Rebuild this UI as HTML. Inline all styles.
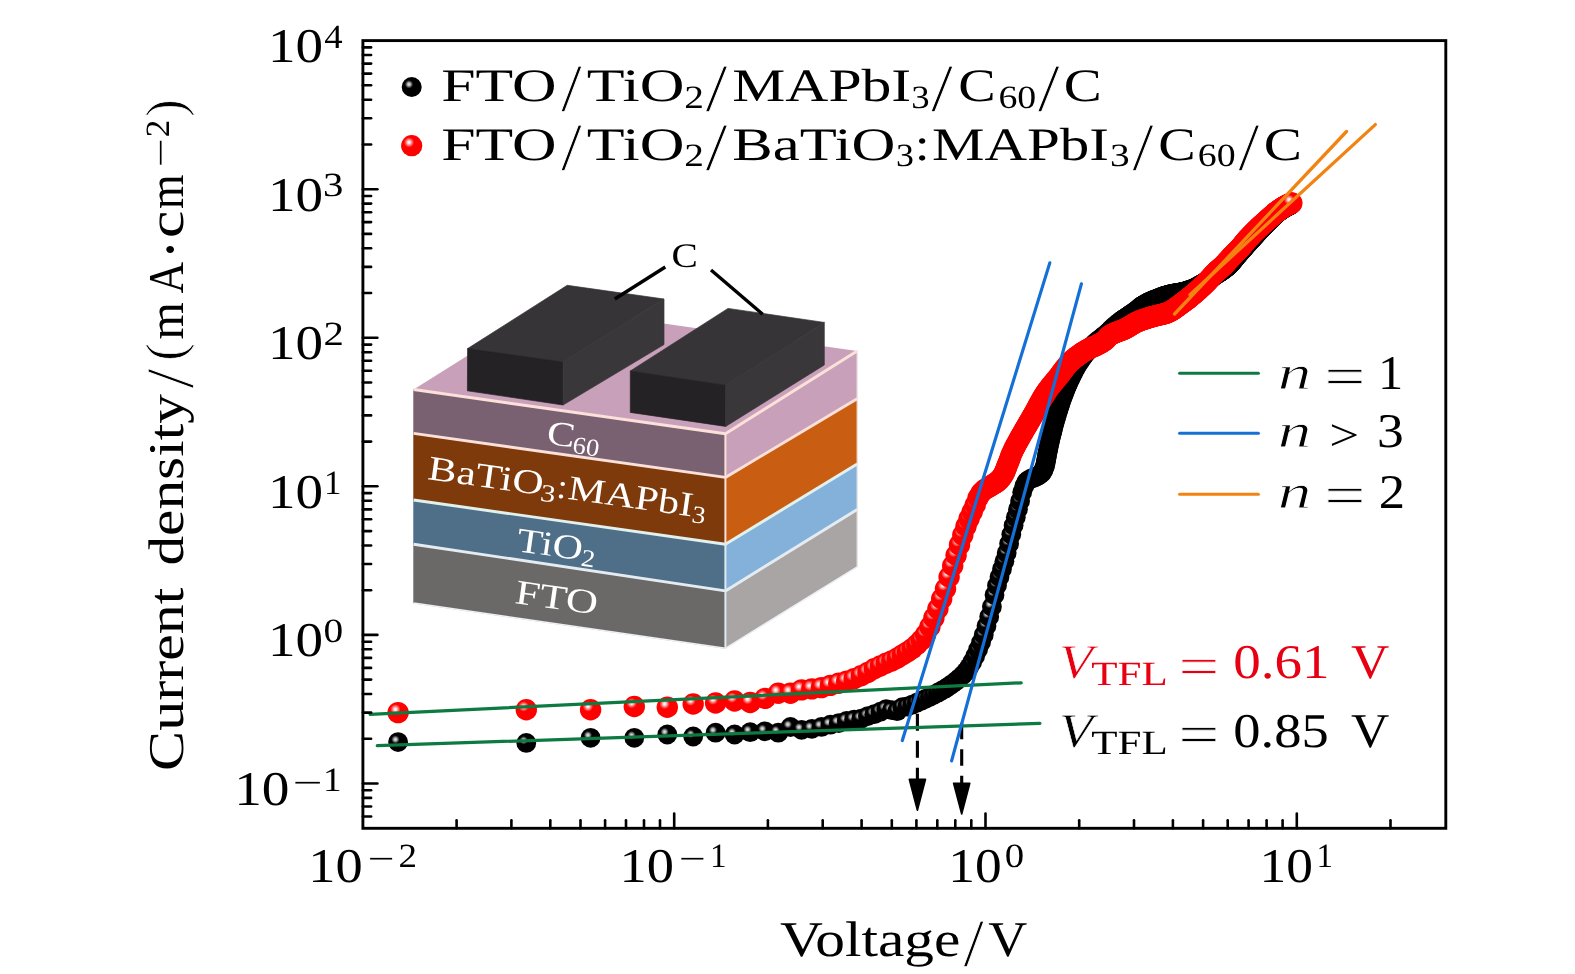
<!DOCTYPE html>
<html lang="en">
<head>
<meta charset="utf-8">
<title>J-V characteristics</title>
<style>
html,body{margin:0;padding:0;background:#fff;}
body{width:1575px;height:974px;overflow:hidden;}
svg{display:block;will-change:transform;}
text{font-family:'Liberation Serif', 'DejaVu Serif', serif;fill:#000;text-rendering:geometricPrecision;}
.it{font-style:italic;}
.w{fill:#fff;}
.r{fill:#e60012;}
</style>
</head>
<body>
<svg width="1575" height="974" viewBox="0 0 1575 974">
<defs>
<radialGradient id="gr" cx="0.375" cy="0.345" r="0.24">
<stop offset="0" stop-color="#ffffff"/>
<stop offset="0.25" stop-color="#ffe0e0"/>
<stop offset="0.6" stop-color="#ff7070"/>
<stop offset="1" stop-color="#ff0000"/>
</radialGradient>
<radialGradient id="gk" cx="0.365" cy="0.365" r="0.21">
<stop offset="0" stop-color="#ececec"/>
<stop offset="0.4" stop-color="#a8a8a8"/>
<stop offset="0.8" stop-color="#303030"/>
<stop offset="1" stop-color="#000000"/>
</radialGradient>
</defs>
<rect x="0" y="0" width="1575" height="974" fill="#ffffff"/>

<g id="series-black">
<circle cx="398.1" cy="742.1" r="9.9" fill="url(#gk)"/>
<circle cx="526.3" cy="742.9" r="9.9" fill="url(#gk)"/>
<circle cx="590.6" cy="737.8" r="9.9" fill="url(#gk)"/>
<circle cx="634.3" cy="737.8" r="9.9" fill="url(#gk)"/>
<circle cx="667.3" cy="734.5" r="9.9" fill="url(#gk)"/>
<circle cx="693.2" cy="736.5" r="9.9" fill="url(#gk)"/>
<circle cx="715.6" cy="732.7" r="9.9" fill="url(#gk)"/>
<circle cx="734.6" cy="734.5" r="9.9" fill="url(#gk)"/>
<circle cx="750.2" cy="732.2" r="9.9" fill="url(#gk)"/>
<circle cx="765.0" cy="731.3" r="9.9" fill="url(#gk)"/>
<circle cx="778.3" cy="732.7" r="9.9" fill="url(#gk)"/>
<circle cx="790.5" cy="727.0" r="9.9" fill="url(#gk)"/>
<circle cx="801.6" cy="729.8" r="9.9" fill="url(#gk)"/>
<circle cx="811.9" cy="728.8" r="9.9" fill="url(#gk)"/>
<circle cx="821.5" cy="726.9" r="9.9" fill="url(#gk)"/>
<circle cx="830.4" cy="724.7" r="9.9" fill="url(#gk)"/>
<circle cx="838.8" cy="723.1" r="9.9" fill="url(#gk)"/>
<circle cx="846.7" cy="720.8" r="9.9" fill="url(#gk)"/>
<circle cx="854.1" cy="719.6" r="9.9" fill="url(#gk)"/>
<circle cx="861.2" cy="718.7" r="9.9" fill="url(#gk)"/>
<circle cx="867.9" cy="716.1" r="9.9" fill="url(#gk)"/>
<circle cx="874.3" cy="714.2" r="9.9" fill="url(#gk)"/>
<circle cx="880.4" cy="711.7" r="9.9" fill="url(#gk)"/>
<circle cx="886.2" cy="709.1" r="9.9" fill="url(#gk)"/>
<circle cx="891.8" cy="710.2" r="9.9" fill="url(#gk)"/>
<circle cx="897.2" cy="711.2" r="9.9" fill="url(#gk)"/>
<circle cx="902.4" cy="707.2" r="9.9" fill="url(#gk)"/>
<circle cx="907.4" cy="706.5" r="9.9" fill="url(#gk)"/>
<circle cx="912.2" cy="704.7" r="9.9" fill="url(#gk)"/>
<circle cx="916.8" cy="702.7" r="9.9" fill="url(#gk)"/>
<circle cx="921.3" cy="700.7" r="9.9" fill="url(#gk)"/>
<circle cx="925.6" cy="698.8" r="9.9" fill="url(#gk)"/>
<circle cx="929.9" cy="696.8" r="9.9" fill="url(#gk)"/>
<circle cx="933.9" cy="694.8" r="9.9" fill="url(#gk)"/>
<circle cx="937.9" cy="692.7" r="9.9" fill="url(#gk)"/>
<circle cx="941.7" cy="690.6" r="9.9" fill="url(#gk)"/>
<circle cx="945.5" cy="688.4" r="9.9" fill="url(#gk)"/>
<circle cx="949.1" cy="686.1" r="9.9" fill="url(#gk)"/>
<circle cx="952.7" cy="683.6" r="9.9" fill="url(#gk)"/>
<circle cx="956.1" cy="680.9" r="9.9" fill="url(#gk)"/>
<circle cx="959.5" cy="678.1" r="9.9" fill="url(#gk)"/>
<circle cx="962.8" cy="675.1" r="9.9" fill="url(#gk)"/>
<circle cx="966.0" cy="671.6" r="9.9" fill="url(#gk)"/>
<circle cx="969.1" cy="667.2" r="9.9" fill="url(#gk)"/>
<circle cx="972.2" cy="662.0" r="9.9" fill="url(#gk)"/>
<circle cx="975.2" cy="656.0" r="9.9" fill="url(#gk)"/>
<circle cx="978.1" cy="649.4" r="9.9" fill="url(#gk)"/>
<circle cx="981.0" cy="642.4" r="9.9" fill="url(#gk)"/>
<circle cx="983.8" cy="634.7" r="9.9" fill="url(#gk)"/>
<circle cx="986.5" cy="626.0" r="9.9" fill="url(#gk)"/>
<circle cx="989.2" cy="616.8" r="9.9" fill="url(#gk)"/>
<circle cx="991.9" cy="606.7" r="9.9" fill="url(#gk)"/>
<circle cx="994.5" cy="594.9" r="9.9" fill="url(#gk)"/>
<circle cx="997.0" cy="585.5" r="9.9" fill="url(#gk)"/>
<circle cx="999.5" cy="576.9" r="9.9" fill="url(#gk)"/>
<circle cx="1002.0" cy="569.0" r="9.9" fill="url(#gk)"/>
<circle cx="1004.4" cy="561.3" r="9.9" fill="url(#gk)"/>
<circle cx="1006.7" cy="553.0" r="9.9" fill="url(#gk)"/>
<circle cx="1009.1" cy="543.8" r="9.9" fill="url(#gk)"/>
<circle cx="1011.3" cy="534.4" r="9.9" fill="url(#gk)"/>
<circle cx="1013.6" cy="525.4" r="9.9" fill="url(#gk)"/>
<circle cx="1015.8" cy="517.2" r="9.9" fill="url(#gk)"/>
<circle cx="1018.0" cy="509.3" r="9.9" fill="url(#gk)"/>
<circle cx="1020.1" cy="500.9" r="9.9" fill="url(#gk)"/>
<circle cx="1022.2" cy="492.2" r="9.9" fill="url(#gk)"/>
<circle cx="1024.3" cy="485.9" r="9.9" fill="url(#gk)"/>
<circle cx="1026.4" cy="481.8" r="9.9" fill="url(#gk)"/>
<circle cx="1028.4" cy="480.1" r="9.9" fill="url(#gk)"/>
<circle cx="1030.4" cy="479.0" r="9.9" fill="url(#gk)"/>
<circle cx="1032.3" cy="478.2" r="9.9" fill="url(#gk)"/>
<circle cx="1034.2" cy="477.5" r="9.9" fill="url(#gk)"/>
<circle cx="1036.1" cy="476.8" r="9.9" fill="url(#gk)"/>
<circle cx="1038.0" cy="475.8" r="9.9" fill="url(#gk)"/>
<circle cx="1039.9" cy="474.6" r="9.9" fill="url(#gk)"/>
<circle cx="1041.7" cy="472.9" r="9.9" fill="url(#gk)"/>
<circle cx="1042.6" cy="471.5" r="9.9" fill="url(#gk)"/>
<circle cx="1043.5" cy="470.1" r="9.9" fill="url(#gk)"/>
<circle cx="1044.4" cy="467.5" r="9.9" fill="url(#gk)"/>
<circle cx="1045.3" cy="465.0" r="9.9" fill="url(#gk)"/>
<circle cx="1045.7" cy="462.6" r="9.9" fill="url(#gk)"/>
<circle cx="1046.1" cy="460.2" r="9.9" fill="url(#gk)"/>
<circle cx="1046.6" cy="457.8" r="9.9" fill="url(#gk)"/>
<circle cx="1047.0" cy="455.4" r="9.9" fill="url(#gk)"/>
<circle cx="1047.6" cy="452.5" r="9.9" fill="url(#gk)"/>
<circle cx="1048.2" cy="449.6" r="9.9" fill="url(#gk)"/>
<circle cx="1048.7" cy="446.7" r="9.9" fill="url(#gk)"/>
<circle cx="1049.3" cy="444.1" r="9.9" fill="url(#gk)"/>
<circle cx="1049.9" cy="441.5" r="9.9" fill="url(#gk)"/>
<circle cx="1050.4" cy="438.9" r="9.9" fill="url(#gk)"/>
<circle cx="1051.0" cy="436.6" r="9.9" fill="url(#gk)"/>
<circle cx="1051.6" cy="434.3" r="9.9" fill="url(#gk)"/>
<circle cx="1052.1" cy="432.0" r="9.9" fill="url(#gk)"/>
<circle cx="1052.7" cy="429.9" r="9.9" fill="url(#gk)"/>
<circle cx="1053.2" cy="427.7" r="9.9" fill="url(#gk)"/>
<circle cx="1053.8" cy="425.6" r="9.9" fill="url(#gk)"/>
<circle cx="1054.3" cy="423.6" r="9.9" fill="url(#gk)"/>
<circle cx="1054.9" cy="421.6" r="9.9" fill="url(#gk)"/>
<circle cx="1055.4" cy="419.6" r="9.9" fill="url(#gk)"/>
<circle cx="1056.3" cy="416.9" r="9.9" fill="url(#gk)"/>
<circle cx="1057.1" cy="414.1" r="9.9" fill="url(#gk)"/>
<circle cx="1057.9" cy="411.5" r="9.9" fill="url(#gk)"/>
<circle cx="1058.7" cy="408.9" r="9.9" fill="url(#gk)"/>
<circle cx="1059.5" cy="406.4" r="9.9" fill="url(#gk)"/>
<circle cx="1060.3" cy="403.9" r="9.9" fill="url(#gk)"/>
<circle cx="1061.1" cy="401.6" r="9.9" fill="url(#gk)"/>
<circle cx="1061.8" cy="399.3" r="9.9" fill="url(#gk)"/>
<circle cx="1062.6" cy="397.2" r="9.9" fill="url(#gk)"/>
<circle cx="1063.4" cy="395.0" r="9.9" fill="url(#gk)"/>
<circle cx="1064.2" cy="393.0" r="9.9" fill="url(#gk)"/>
<circle cx="1064.9" cy="391.0" r="9.9" fill="url(#gk)"/>
<circle cx="1065.7" cy="389.2" r="9.9" fill="url(#gk)"/>
<circle cx="1066.4" cy="387.3" r="9.9" fill="url(#gk)"/>
<circle cx="1067.2" cy="385.5" r="9.9" fill="url(#gk)"/>
<circle cx="1067.9" cy="383.7" r="9.9" fill="url(#gk)"/>
<circle cx="1068.7" cy="382.0" r="9.9" fill="url(#gk)"/>
<circle cx="1069.4" cy="380.4" r="9.9" fill="url(#gk)"/>
<circle cx="1070.2" cy="378.8" r="9.9" fill="url(#gk)"/>
<circle cx="1070.9" cy="377.2" r="9.9" fill="url(#gk)"/>
<circle cx="1071.6" cy="375.8" r="9.9" fill="url(#gk)"/>
<circle cx="1072.3" cy="374.3" r="9.9" fill="url(#gk)"/>
<circle cx="1073.1" cy="372.9" r="9.9" fill="url(#gk)"/>
<circle cx="1073.8" cy="371.6" r="9.9" fill="url(#gk)"/>
<circle cx="1075.2" cy="369.0" r="9.9" fill="url(#gk)"/>
<circle cx="1076.6" cy="366.5" r="9.9" fill="url(#gk)"/>
<circle cx="1078.0" cy="364.2" r="9.9" fill="url(#gk)"/>
<circle cx="1079.4" cy="362.0" r="9.9" fill="url(#gk)"/>
<circle cx="1080.7" cy="360.0" r="9.9" fill="url(#gk)"/>
<circle cx="1082.1" cy="358.0" r="9.9" fill="url(#gk)"/>
<circle cx="1083.4" cy="356.2" r="9.9" fill="url(#gk)"/>
<circle cx="1084.7" cy="354.4" r="9.9" fill="url(#gk)"/>
<circle cx="1086.1" cy="352.8" r="9.9" fill="url(#gk)"/>
<circle cx="1087.4" cy="351.2" r="9.9" fill="url(#gk)"/>
<circle cx="1088.6" cy="349.7" r="9.9" fill="url(#gk)"/>
<circle cx="1089.9" cy="348.2" r="9.9" fill="url(#gk)"/>
<circle cx="1091.2" cy="346.9" r="9.9" fill="url(#gk)"/>
<circle cx="1092.4" cy="345.6" r="9.9" fill="url(#gk)"/>
<circle cx="1093.7" cy="344.4" r="9.9" fill="url(#gk)"/>
<circle cx="1094.9" cy="343.2" r="9.9" fill="url(#gk)"/>
<circle cx="1096.1" cy="342.2" r="9.9" fill="url(#gk)"/>
<circle cx="1097.3" cy="341.2" r="9.9" fill="url(#gk)"/>
<circle cx="1098.5" cy="340.2" r="9.9" fill="url(#gk)"/>
<circle cx="1099.7" cy="339.3" r="9.9" fill="url(#gk)"/>
<circle cx="1100.9" cy="338.4" r="9.9" fill="url(#gk)"/>
<circle cx="1102.0" cy="337.5" r="9.9" fill="url(#gk)"/>
<circle cx="1103.2" cy="336.5" r="9.9" fill="url(#gk)"/>
<circle cx="1104.3" cy="335.6" r="9.9" fill="url(#gk)"/>
<circle cx="1105.5" cy="334.7" r="9.9" fill="url(#gk)"/>
<circle cx="1106.6" cy="333.7" r="9.9" fill="url(#gk)"/>
<circle cx="1107.7" cy="332.7" r="9.9" fill="url(#gk)"/>
<circle cx="1108.8" cy="331.7" r="9.9" fill="url(#gk)"/>
<circle cx="1109.9" cy="330.7" r="9.9" fill="url(#gk)"/>
<circle cx="1111.0" cy="329.6" r="9.9" fill="url(#gk)"/>
<circle cx="1112.1" cy="328.6" r="9.9" fill="url(#gk)"/>
<circle cx="1113.2" cy="327.6" r="9.9" fill="url(#gk)"/>
<circle cx="1114.2" cy="326.6" r="9.9" fill="url(#gk)"/>
<circle cx="1115.3" cy="325.6" r="9.9" fill="url(#gk)"/>
<circle cx="1116.3" cy="324.7" r="9.9" fill="url(#gk)"/>
<circle cx="1117.4" cy="323.8" r="9.9" fill="url(#gk)"/>
<circle cx="1118.4" cy="323.0" r="9.9" fill="url(#gk)"/>
<circle cx="1119.4" cy="322.2" r="9.9" fill="url(#gk)"/>
<circle cx="1120.4" cy="321.5" r="9.9" fill="url(#gk)"/>
<circle cx="1121.4" cy="320.7" r="9.9" fill="url(#gk)"/>
<circle cx="1122.4" cy="320.0" r="9.9" fill="url(#gk)"/>
<circle cx="1123.4" cy="319.3" r="9.9" fill="url(#gk)"/>
<circle cx="1124.4" cy="318.6" r="9.9" fill="url(#gk)"/>
<circle cx="1125.4" cy="318.0" r="9.9" fill="url(#gk)"/>
<circle cx="1126.4" cy="317.3" r="9.9" fill="url(#gk)"/>
<circle cx="1127.3" cy="316.7" r="9.9" fill="url(#gk)"/>
<circle cx="1128.3" cy="316.0" r="9.9" fill="url(#gk)"/>
<circle cx="1129.2" cy="315.4" r="9.9" fill="url(#gk)"/>
<circle cx="1130.2" cy="314.7" r="9.9" fill="url(#gk)"/>
<circle cx="1131.1" cy="314.1" r="9.9" fill="url(#gk)"/>
<circle cx="1132.1" cy="313.5" r="9.9" fill="url(#gk)"/>
<circle cx="1133.0" cy="312.8" r="9.9" fill="url(#gk)"/>
<circle cx="1133.9" cy="312.2" r="9.9" fill="url(#gk)"/>
<circle cx="1134.8" cy="311.5" r="9.9" fill="url(#gk)"/>
<circle cx="1135.7" cy="310.9" r="9.9" fill="url(#gk)"/>
<circle cx="1136.6" cy="310.2" r="9.9" fill="url(#gk)"/>
<circle cx="1137.5" cy="309.4" r="9.9" fill="url(#gk)"/>
<circle cx="1138.4" cy="308.7" r="9.9" fill="url(#gk)"/>
<circle cx="1139.3" cy="307.9" r="9.9" fill="url(#gk)"/>
<circle cx="1140.2" cy="307.2" r="9.9" fill="url(#gk)"/>
<circle cx="1141.0" cy="306.5" r="9.9" fill="url(#gk)"/>
<circle cx="1141.9" cy="305.9" r="9.9" fill="url(#gk)"/>
<circle cx="1142.8" cy="305.3" r="9.9" fill="url(#gk)"/>
<circle cx="1143.6" cy="304.8" r="9.9" fill="url(#gk)"/>
<circle cx="1144.5" cy="304.3" r="9.9" fill="url(#gk)"/>
<circle cx="1145.3" cy="303.8" r="9.9" fill="url(#gk)"/>
<circle cx="1146.1" cy="303.4" r="9.9" fill="url(#gk)"/>
<circle cx="1147.0" cy="302.9" r="9.9" fill="url(#gk)"/>
<circle cx="1147.8" cy="302.5" r="9.9" fill="url(#gk)"/>
<circle cx="1148.6" cy="302.1" r="9.9" fill="url(#gk)"/>
<circle cx="1149.4" cy="301.7" r="9.9" fill="url(#gk)"/>
<circle cx="1150.3" cy="301.4" r="9.9" fill="url(#gk)"/>
<circle cx="1151.1" cy="301.0" r="9.9" fill="url(#gk)"/>
<circle cx="1151.9" cy="300.7" r="9.9" fill="url(#gk)"/>
<circle cx="1152.7" cy="300.3" r="9.9" fill="url(#gk)"/>
<circle cx="1153.5" cy="300.0" r="9.9" fill="url(#gk)"/>
<circle cx="1154.3" cy="299.7" r="9.9" fill="url(#gk)"/>
<circle cx="1155.0" cy="299.4" r="9.9" fill="url(#gk)"/>
<circle cx="1155.8" cy="299.1" r="9.9" fill="url(#gk)"/>
<circle cx="1156.6" cy="298.8" r="9.9" fill="url(#gk)"/>
<circle cx="1157.4" cy="298.5" r="9.9" fill="url(#gk)"/>
<circle cx="1158.1" cy="298.2" r="9.9" fill="url(#gk)"/>
<circle cx="1158.9" cy="297.9" r="9.9" fill="url(#gk)"/>
<circle cx="1159.7" cy="297.6" r="9.9" fill="url(#gk)"/>
<circle cx="1160.4" cy="297.3" r="9.9" fill="url(#gk)"/>
<circle cx="1161.2" cy="297.0" r="9.9" fill="url(#gk)"/>
<circle cx="1161.9" cy="296.7" r="9.9" fill="url(#gk)"/>
<circle cx="1162.7" cy="296.5" r="9.9" fill="url(#gk)"/>
<circle cx="1163.4" cy="296.2" r="9.9" fill="url(#gk)"/>
<circle cx="1164.1" cy="296.0" r="9.9" fill="url(#gk)"/>
<circle cx="1164.9" cy="295.7" r="9.9" fill="url(#gk)"/>
<circle cx="1165.6" cy="295.5" r="9.9" fill="url(#gk)"/>
<circle cx="1166.3" cy="295.3" r="9.9" fill="url(#gk)"/>
<circle cx="1167.0" cy="295.1" r="9.9" fill="url(#gk)"/>
<circle cx="1167.7" cy="294.9" r="9.9" fill="url(#gk)"/>
<circle cx="1168.5" cy="294.7" r="9.9" fill="url(#gk)"/>
<circle cx="1169.2" cy="294.5" r="9.9" fill="url(#gk)"/>
<circle cx="1169.9" cy="294.3" r="9.9" fill="url(#gk)"/>
<circle cx="1170.6" cy="294.1" r="9.9" fill="url(#gk)"/>
<circle cx="1171.3" cy="294.0" r="9.9" fill="url(#gk)"/>
<circle cx="1172.0" cy="293.9" r="9.9" fill="url(#gk)"/>
<circle cx="1172.6" cy="293.7" r="9.9" fill="url(#gk)"/>
<circle cx="1173.3" cy="293.6" r="9.9" fill="url(#gk)"/>
<circle cx="1174.0" cy="293.5" r="9.9" fill="url(#gk)"/>
<circle cx="1174.7" cy="293.4" r="9.9" fill="url(#gk)"/>
<circle cx="1175.4" cy="293.3" r="9.9" fill="url(#gk)"/>
<circle cx="1176.0" cy="293.2" r="9.9" fill="url(#gk)"/>
<circle cx="1176.7" cy="293.0" r="9.9" fill="url(#gk)"/>
<circle cx="1177.4" cy="292.9" r="9.9" fill="url(#gk)"/>
<circle cx="1178.0" cy="292.8" r="9.9" fill="url(#gk)"/>
<circle cx="1178.7" cy="292.7" r="9.9" fill="url(#gk)"/>
<circle cx="1179.4" cy="292.6" r="9.9" fill="url(#gk)"/>
<circle cx="1180.0" cy="292.5" r="9.9" fill="url(#gk)"/>
<circle cx="1180.7" cy="292.4" r="9.9" fill="url(#gk)"/>
<circle cx="1181.3" cy="292.2" r="9.9" fill="url(#gk)"/>
<circle cx="1181.9" cy="292.1" r="9.9" fill="url(#gk)"/>
<circle cx="1182.6" cy="291.9" r="9.9" fill="url(#gk)"/>
<circle cx="1183.2" cy="291.8" r="9.9" fill="url(#gk)"/>
<circle cx="1183.9" cy="291.6" r="9.9" fill="url(#gk)"/>
<circle cx="1184.5" cy="291.5" r="9.9" fill="url(#gk)"/>
<circle cx="1185.1" cy="291.3" r="9.9" fill="url(#gk)"/>
<circle cx="1185.7" cy="291.1" r="9.9" fill="url(#gk)"/>
<circle cx="1186.4" cy="290.9" r="9.9" fill="url(#gk)"/>
<circle cx="1187.0" cy="290.7" r="9.9" fill="url(#gk)"/>
<circle cx="1187.6" cy="290.5" r="9.9" fill="url(#gk)"/>
<circle cx="1188.2" cy="290.3" r="9.9" fill="url(#gk)"/>
<circle cx="1188.8" cy="290.1" r="9.9" fill="url(#gk)"/>
<circle cx="1189.4" cy="289.9" r="9.9" fill="url(#gk)"/>
<circle cx="1190.0" cy="289.7" r="9.9" fill="url(#gk)"/>
<circle cx="1190.6" cy="289.5" r="9.9" fill="url(#gk)"/>
<circle cx="1191.2" cy="289.3" r="9.9" fill="url(#gk)"/>
<circle cx="1191.8" cy="289.1" r="9.9" fill="url(#gk)"/>
<circle cx="1192.4" cy="288.8" r="9.9" fill="url(#gk)"/>
<circle cx="1193.0" cy="288.6" r="9.9" fill="url(#gk)"/>
<circle cx="1193.6" cy="288.3" r="9.9" fill="url(#gk)"/>
<circle cx="1194.2" cy="288.1" r="9.9" fill="url(#gk)"/>
<circle cx="1194.8" cy="287.8" r="9.9" fill="url(#gk)"/>
<circle cx="1195.4" cy="287.5" r="9.9" fill="url(#gk)"/>
<circle cx="1196.0" cy="287.2" r="9.9" fill="url(#gk)"/>
<circle cx="1196.5" cy="286.9" r="9.9" fill="url(#gk)"/>
<circle cx="1197.1" cy="286.6" r="9.9" fill="url(#gk)"/>
<circle cx="1197.7" cy="286.3" r="9.9" fill="url(#gk)"/>
<circle cx="1198.2" cy="286.0" r="9.9" fill="url(#gk)"/>
<circle cx="1198.8" cy="285.7" r="9.9" fill="url(#gk)"/>
<circle cx="1199.4" cy="285.3" r="9.9" fill="url(#gk)"/>
<circle cx="1199.9" cy="285.0" r="9.9" fill="url(#gk)"/>
<circle cx="1200.5" cy="284.7" r="9.9" fill="url(#gk)"/>
<circle cx="1201.1" cy="284.4" r="9.9" fill="url(#gk)"/>
<circle cx="1201.6" cy="284.1" r="9.9" fill="url(#gk)"/>
<circle cx="1202.2" cy="283.8" r="9.9" fill="url(#gk)"/>
<circle cx="1202.7" cy="283.4" r="9.9" fill="url(#gk)"/>
<circle cx="1203.3" cy="283.1" r="9.9" fill="url(#gk)"/>
<circle cx="1203.8" cy="282.8" r="9.9" fill="url(#gk)"/>
<circle cx="1204.4" cy="282.5" r="9.9" fill="url(#gk)"/>
<circle cx="1204.9" cy="282.1" r="9.9" fill="url(#gk)"/>
<circle cx="1205.4" cy="281.8" r="9.9" fill="url(#gk)"/>
<circle cx="1206.0" cy="281.4" r="9.9" fill="url(#gk)"/>
<circle cx="1206.5" cy="281.1" r="9.9" fill="url(#gk)"/>
<circle cx="1207.1" cy="280.8" r="9.9" fill="url(#gk)"/>
<circle cx="1207.6" cy="280.4" r="9.9" fill="url(#gk)"/>
<circle cx="1208.1" cy="280.1" r="9.9" fill="url(#gk)"/>
<circle cx="1208.6" cy="279.7" r="9.9" fill="url(#gk)"/>
<circle cx="1209.2" cy="279.4" r="9.9" fill="url(#gk)"/>
<circle cx="1209.7" cy="279.1" r="9.9" fill="url(#gk)"/>
<circle cx="1210.2" cy="278.7" r="9.9" fill="url(#gk)"/>
<circle cx="1210.7" cy="278.4" r="9.9" fill="url(#gk)"/>
<circle cx="1211.3" cy="278.0" r="9.9" fill="url(#gk)"/>
<circle cx="1211.8" cy="277.7" r="9.9" fill="url(#gk)"/>
<circle cx="1212.3" cy="277.3" r="9.9" fill="url(#gk)"/>
<circle cx="1212.8" cy="277.0" r="9.9" fill="url(#gk)"/>
<circle cx="1213.3" cy="276.6" r="9.9" fill="url(#gk)"/>
<circle cx="1213.8" cy="276.3" r="9.9" fill="url(#gk)"/>
<circle cx="1214.3" cy="276.0" r="9.9" fill="url(#gk)"/>
<circle cx="1214.8" cy="275.6" r="9.9" fill="url(#gk)"/>
<circle cx="1215.3" cy="275.3" r="9.9" fill="url(#gk)"/>
<circle cx="1215.8" cy="274.9" r="9.9" fill="url(#gk)"/>
<circle cx="1216.3" cy="274.6" r="9.9" fill="url(#gk)"/>
<circle cx="1216.8" cy="274.3" r="9.9" fill="url(#gk)"/>
<circle cx="1217.3" cy="274.0" r="9.9" fill="url(#gk)"/>
<circle cx="1217.8" cy="273.6" r="9.9" fill="url(#gk)"/>
<circle cx="1218.3" cy="273.3" r="9.9" fill="url(#gk)"/>
<circle cx="1218.8" cy="273.0" r="9.9" fill="url(#gk)"/>
<circle cx="1219.3" cy="272.7" r="9.9" fill="url(#gk)"/>
<circle cx="1219.8" cy="272.3" r="9.9" fill="url(#gk)"/>
<circle cx="1220.3" cy="272.0" r="9.9" fill="url(#gk)"/>
<circle cx="1220.7" cy="271.7" r="9.9" fill="url(#gk)"/>
<circle cx="1221.2" cy="271.4" r="9.9" fill="url(#gk)"/>
<circle cx="1221.7" cy="271.0" r="9.9" fill="url(#gk)"/>
<circle cx="1222.2" cy="270.7" r="9.9" fill="url(#gk)"/>
<circle cx="1222.6" cy="270.4" r="9.9" fill="url(#gk)"/>
<circle cx="1223.1" cy="270.0" r="9.9" fill="url(#gk)"/>
<circle cx="1223.6" cy="269.7" r="9.9" fill="url(#gk)"/>
<circle cx="1224.1" cy="269.3" r="9.9" fill="url(#gk)"/>
<circle cx="1224.5" cy="269.0" r="9.9" fill="url(#gk)"/>
<circle cx="1225.0" cy="268.6" r="9.9" fill="url(#gk)"/>
<circle cx="1225.5" cy="268.3" r="9.9" fill="url(#gk)"/>
<circle cx="1225.9" cy="267.9" r="9.9" fill="url(#gk)"/>
<circle cx="1226.4" cy="267.5" r="9.9" fill="url(#gk)"/>
<circle cx="1226.9" cy="267.2" r="9.9" fill="url(#gk)"/>
<circle cx="1227.3" cy="266.8" r="9.9" fill="url(#gk)"/>
<circle cx="1227.8" cy="266.4" r="9.9" fill="url(#gk)"/>
<circle cx="1228.2" cy="266.0" r="9.9" fill="url(#gk)"/>
<circle cx="1228.7" cy="265.6" r="9.9" fill="url(#gk)"/>
<circle cx="1229.1" cy="265.2" r="9.9" fill="url(#gk)"/>
<circle cx="1229.6" cy="264.7" r="9.9" fill="url(#gk)"/>
<circle cx="1230.0" cy="264.3" r="9.9" fill="url(#gk)"/>
<circle cx="1230.5" cy="263.8" r="9.9" fill="url(#gk)"/>
<circle cx="1230.9" cy="263.3" r="9.9" fill="url(#gk)"/>
<circle cx="1231.4" cy="262.8" r="9.9" fill="url(#gk)"/>
<circle cx="1231.8" cy="262.3" r="9.9" fill="url(#gk)"/>
<circle cx="1232.3" cy="261.8" r="9.9" fill="url(#gk)"/>
<circle cx="1232.7" cy="261.2" r="9.9" fill="url(#gk)"/>
<circle cx="1233.2" cy="260.7" r="9.9" fill="url(#gk)"/>
<circle cx="1233.6" cy="260.1" r="9.9" fill="url(#gk)"/>
<circle cx="1234.0" cy="259.6" r="9.9" fill="url(#gk)"/>
<circle cx="1234.5" cy="259.0" r="9.9" fill="url(#gk)"/>
<circle cx="1234.9" cy="258.5" r="9.9" fill="url(#gk)"/>
<circle cx="1235.3" cy="257.9" r="9.9" fill="url(#gk)"/>
<circle cx="1235.8" cy="257.4" r="9.9" fill="url(#gk)"/>
<circle cx="1236.2" cy="256.9" r="9.9" fill="url(#gk)"/>
<circle cx="1236.6" cy="256.4" r="9.9" fill="url(#gk)"/>
<circle cx="1237.0" cy="255.8" r="9.9" fill="url(#gk)"/>
<circle cx="1237.5" cy="255.3" r="9.9" fill="url(#gk)"/>
<circle cx="1237.9" cy="254.9" r="9.9" fill="url(#gk)"/>
<circle cx="1238.3" cy="254.4" r="9.9" fill="url(#gk)"/>
<circle cx="1238.7" cy="253.9" r="9.9" fill="url(#gk)"/>
<circle cx="1239.2" cy="253.4" r="9.9" fill="url(#gk)"/>
<circle cx="1239.6" cy="252.9" r="9.9" fill="url(#gk)"/>
<circle cx="1240.0" cy="252.4" r="9.9" fill="url(#gk)"/>
<circle cx="1240.4" cy="252.0" r="9.9" fill="url(#gk)"/>
<circle cx="1240.8" cy="251.5" r="9.9" fill="url(#gk)"/>
<circle cx="1241.3" cy="251.0" r="9.9" fill="url(#gk)"/>
<circle cx="1241.7" cy="250.5" r="9.9" fill="url(#gk)"/>
<circle cx="1242.1" cy="250.1" r="9.9" fill="url(#gk)"/>
<circle cx="1242.5" cy="249.6" r="9.9" fill="url(#gk)"/>
<circle cx="1242.9" cy="249.1" r="9.9" fill="url(#gk)"/>
<circle cx="1243.3" cy="248.7" r="9.9" fill="url(#gk)"/>
<circle cx="1243.7" cy="248.2" r="9.9" fill="url(#gk)"/>
<circle cx="1244.1" cy="247.8" r="9.9" fill="url(#gk)"/>
<circle cx="1244.5" cy="247.3" r="9.9" fill="url(#gk)"/>
<circle cx="1244.9" cy="246.9" r="9.9" fill="url(#gk)"/>
<circle cx="1245.3" cy="246.4" r="9.9" fill="url(#gk)"/>
<circle cx="1245.7" cy="246.0" r="9.9" fill="url(#gk)"/>
<circle cx="1246.1" cy="245.5" r="9.9" fill="url(#gk)"/>
<circle cx="1246.5" cy="245.1" r="9.9" fill="url(#gk)"/>
<circle cx="1246.9" cy="244.6" r="9.9" fill="url(#gk)"/>
<circle cx="1247.3" cy="244.2" r="9.9" fill="url(#gk)"/>
<circle cx="1247.7" cy="243.7" r="9.9" fill="url(#gk)"/>
<circle cx="1248.1" cy="243.3" r="9.9" fill="url(#gk)"/>
<circle cx="1248.5" cy="242.9" r="9.9" fill="url(#gk)"/>
<circle cx="1248.9" cy="242.4" r="9.9" fill="url(#gk)"/>
<circle cx="1249.3" cy="242.0" r="9.9" fill="url(#gk)"/>
<circle cx="1249.7" cy="241.6" r="9.9" fill="url(#gk)"/>
<circle cx="1250.1" cy="241.1" r="9.9" fill="url(#gk)"/>
<circle cx="1250.5" cy="240.7" r="9.9" fill="url(#gk)"/>
<circle cx="1250.8" cy="240.3" r="9.9" fill="url(#gk)"/>
<circle cx="1251.2" cy="239.9" r="9.9" fill="url(#gk)"/>
<circle cx="1251.6" cy="239.4" r="9.9" fill="url(#gk)"/>
<circle cx="1252.0" cy="239.0" r="9.9" fill="url(#gk)"/>
<circle cx="1252.4" cy="238.6" r="9.9" fill="url(#gk)"/>
<circle cx="1252.8" cy="238.2" r="9.9" fill="url(#gk)"/>
<circle cx="1253.1" cy="237.8" r="9.9" fill="url(#gk)"/>
<circle cx="1253.5" cy="237.3" r="9.9" fill="url(#gk)"/>
<circle cx="1253.9" cy="236.9" r="9.9" fill="url(#gk)"/>
<circle cx="1254.3" cy="236.5" r="9.9" fill="url(#gk)"/>
<circle cx="1254.6" cy="236.1" r="9.9" fill="url(#gk)"/>
<circle cx="1255.0" cy="235.7" r="9.9" fill="url(#gk)"/>
<circle cx="1255.4" cy="235.3" r="9.9" fill="url(#gk)"/>
<circle cx="1255.8" cy="234.9" r="9.9" fill="url(#gk)"/>
<circle cx="1256.1" cy="234.4" r="9.9" fill="url(#gk)"/>
<circle cx="1256.5" cy="234.0" r="9.9" fill="url(#gk)"/>
<circle cx="1256.9" cy="233.6" r="9.9" fill="url(#gk)"/>
<circle cx="1257.2" cy="233.2" r="9.9" fill="url(#gk)"/>
<circle cx="1257.6" cy="232.8" r="9.9" fill="url(#gk)"/>
<circle cx="1258.0" cy="232.4" r="9.9" fill="url(#gk)"/>
<circle cx="1258.3" cy="232.0" r="9.9" fill="url(#gk)"/>
<circle cx="1258.7" cy="231.6" r="9.9" fill="url(#gk)"/>
<circle cx="1259.1" cy="231.2" r="9.9" fill="url(#gk)"/>
<circle cx="1259.4" cy="230.8" r="9.9" fill="url(#gk)"/>
<circle cx="1259.8" cy="230.4" r="9.9" fill="url(#gk)"/>
<circle cx="1260.2" cy="230.0" r="9.9" fill="url(#gk)"/>
<circle cx="1260.5" cy="229.7" r="9.9" fill="url(#gk)"/>
<circle cx="1260.9" cy="229.3" r="9.9" fill="url(#gk)"/>
<circle cx="1261.2" cy="228.9" r="9.9" fill="url(#gk)"/>
<circle cx="1261.6" cy="228.5" r="9.9" fill="url(#gk)"/>
<circle cx="1261.9" cy="228.1" r="9.9" fill="url(#gk)"/>
<circle cx="1262.3" cy="227.7" r="9.9" fill="url(#gk)"/>
<circle cx="1262.6" cy="227.4" r="9.9" fill="url(#gk)"/>
<circle cx="1263.0" cy="227.0" r="9.9" fill="url(#gk)"/>
<circle cx="1263.4" cy="226.6" r="9.9" fill="url(#gk)"/>
<circle cx="1263.7" cy="226.3" r="9.9" fill="url(#gk)"/>
<circle cx="1264.1" cy="225.9" r="9.9" fill="url(#gk)"/>
<circle cx="1264.4" cy="225.5" r="9.9" fill="url(#gk)"/>
<circle cx="1264.7" cy="225.2" r="9.9" fill="url(#gk)"/>
<circle cx="1265.1" cy="224.8" r="9.9" fill="url(#gk)"/>
<circle cx="1265.4" cy="224.5" r="9.9" fill="url(#gk)"/>
<circle cx="1265.8" cy="224.1" r="9.9" fill="url(#gk)"/>
<circle cx="1266.1" cy="223.8" r="9.9" fill="url(#gk)"/>
<circle cx="1266.5" cy="223.4" r="9.9" fill="url(#gk)"/>
<circle cx="1266.8" cy="223.1" r="9.9" fill="url(#gk)"/>
<circle cx="1267.2" cy="222.7" r="9.9" fill="url(#gk)"/>
<circle cx="1267.5" cy="222.4" r="9.9" fill="url(#gk)"/>
<circle cx="1267.8" cy="222.1" r="9.9" fill="url(#gk)"/>
<circle cx="1268.2" cy="221.7" r="9.9" fill="url(#gk)"/>
<circle cx="1268.5" cy="221.4" r="9.9" fill="url(#gk)"/>
<circle cx="1268.9" cy="221.1" r="9.9" fill="url(#gk)"/>
<circle cx="1269.2" cy="220.7" r="9.9" fill="url(#gk)"/>
<circle cx="1269.5" cy="220.4" r="9.9" fill="url(#gk)"/>
<circle cx="1269.9" cy="220.1" r="9.9" fill="url(#gk)"/>
<circle cx="1270.2" cy="219.7" r="9.9" fill="url(#gk)"/>
<circle cx="1270.5" cy="219.4" r="9.9" fill="url(#gk)"/>
<circle cx="1270.9" cy="219.1" r="9.9" fill="url(#gk)"/>
<circle cx="1271.2" cy="218.7" r="9.9" fill="url(#gk)"/>
<circle cx="1271.5" cy="218.4" r="9.9" fill="url(#gk)"/>
<circle cx="1271.9" cy="218.1" r="9.9" fill="url(#gk)"/>
<circle cx="1272.2" cy="217.8" r="9.9" fill="url(#gk)"/>
<circle cx="1272.5" cy="217.4" r="9.9" fill="url(#gk)"/>
<circle cx="1272.9" cy="217.1" r="9.9" fill="url(#gk)"/>
<circle cx="1273.2" cy="216.8" r="9.9" fill="url(#gk)"/>
<circle cx="1273.5" cy="216.5" r="9.9" fill="url(#gk)"/>
<circle cx="1273.8" cy="216.2" r="9.9" fill="url(#gk)"/>
<circle cx="1274.2" cy="215.9" r="9.9" fill="url(#gk)"/>
<circle cx="1274.5" cy="215.6" r="9.9" fill="url(#gk)"/>
<circle cx="1274.8" cy="215.3" r="9.9" fill="url(#gk)"/>
<circle cx="1275.1" cy="215.0" r="9.9" fill="url(#gk)"/>
<circle cx="1275.4" cy="214.7" r="9.9" fill="url(#gk)"/>
<circle cx="1275.8" cy="214.4" r="9.9" fill="url(#gk)"/>
<circle cx="1276.1" cy="214.1" r="9.9" fill="url(#gk)"/>
<circle cx="1276.4" cy="213.8" r="9.9" fill="url(#gk)"/>
<circle cx="1276.7" cy="213.6" r="9.9" fill="url(#gk)"/>
<circle cx="1277.0" cy="213.3" r="9.9" fill="url(#gk)"/>
<circle cx="1277.4" cy="213.0" r="9.9" fill="url(#gk)"/>
<circle cx="1277.7" cy="212.8" r="9.9" fill="url(#gk)"/>
<circle cx="1278.0" cy="212.5" r="9.9" fill="url(#gk)"/>
<circle cx="1278.3" cy="212.3" r="9.9" fill="url(#gk)"/>
<circle cx="1278.6" cy="212.0" r="9.9" fill="url(#gk)"/>
<circle cx="1278.9" cy="211.8" r="9.9" fill="url(#gk)"/>
<circle cx="1279.2" cy="211.5" r="9.9" fill="url(#gk)"/>
<circle cx="1279.6" cy="211.3" r="9.9" fill="url(#gk)"/>
<circle cx="1279.9" cy="211.1" r="9.9" fill="url(#gk)"/>
<circle cx="1280.2" cy="210.9" r="9.9" fill="url(#gk)"/>
<circle cx="1280.5" cy="210.7" r="9.9" fill="url(#gk)"/>
<circle cx="1280.8" cy="210.4" r="9.9" fill="url(#gk)"/>
<circle cx="1281.1" cy="210.2" r="9.9" fill="url(#gk)"/>
<circle cx="1281.4" cy="210.0" r="9.9" fill="url(#gk)"/>
<circle cx="1281.7" cy="209.8" r="9.9" fill="url(#gk)"/>
<circle cx="1282.0" cy="209.6" r="9.9" fill="url(#gk)"/>
<circle cx="1282.3" cy="209.4" r="9.9" fill="url(#gk)"/>
<circle cx="1282.6" cy="209.2" r="9.9" fill="url(#gk)"/>
<circle cx="1282.9" cy="209.0" r="9.9" fill="url(#gk)"/>
<circle cx="1283.3" cy="208.8" r="9.9" fill="url(#gk)"/>
<circle cx="1283.6" cy="208.6" r="9.9" fill="url(#gk)"/>
<circle cx="1283.9" cy="208.5" r="9.9" fill="url(#gk)"/>
<circle cx="1284.2" cy="208.3" r="9.9" fill="url(#gk)"/>
<circle cx="1284.5" cy="208.1" r="9.9" fill="url(#gk)"/>
<circle cx="1284.8" cy="207.9" r="9.9" fill="url(#gk)"/>
<circle cx="1285.1" cy="207.7" r="9.9" fill="url(#gk)"/>
<circle cx="1285.4" cy="207.6" r="9.9" fill="url(#gk)"/>
<circle cx="1285.7" cy="207.4" r="9.9" fill="url(#gk)"/>
<circle cx="1286.0" cy="207.2" r="9.9" fill="url(#gk)"/>
<circle cx="1286.3" cy="207.1" r="9.9" fill="url(#gk)"/>
<circle cx="1286.5" cy="206.9" r="9.9" fill="url(#gk)"/>
<circle cx="1286.8" cy="206.7" r="9.9" fill="url(#gk)"/>
<circle cx="1287.1" cy="206.6" r="9.9" fill="url(#gk)"/>
<circle cx="1287.4" cy="206.4" r="9.9" fill="url(#gk)"/>
<circle cx="1287.7" cy="206.3" r="9.9" fill="url(#gk)"/>
<circle cx="1288.0" cy="206.1" r="9.9" fill="url(#gk)"/>
<circle cx="1288.3" cy="206.0" r="9.9" fill="url(#gk)"/>
<circle cx="1288.6" cy="205.8" r="9.9" fill="url(#gk)"/>
<circle cx="1288.9" cy="205.7" r="9.9" fill="url(#gk)"/>
<circle cx="1289.2" cy="205.6" r="9.9" fill="url(#gk)"/>
<circle cx="1289.5" cy="205.4" r="9.9" fill="url(#gk)"/>
<circle cx="1289.8" cy="205.3" r="9.9" fill="url(#gk)"/>
<circle cx="1290.1" cy="205.2" r="9.9" fill="url(#gk)"/>
<circle cx="1290.3" cy="205.1" r="9.9" fill="url(#gk)"/>
<circle cx="1290.6" cy="204.9" r="9.9" fill="url(#gk)"/>
</g>
<g id="series-red">
<circle cx="398.1" cy="712.6" r="10.7" fill="url(#gr)"/>
<circle cx="526.3" cy="709.8" r="10.7" fill="url(#gr)"/>
<circle cx="590.6" cy="709.8" r="10.7" fill="url(#gr)"/>
<circle cx="634.3" cy="706.5" r="10.7" fill="url(#gr)"/>
<circle cx="667.3" cy="707.3" r="10.7" fill="url(#gr)"/>
<circle cx="693.2" cy="704.0" r="10.7" fill="url(#gr)"/>
<circle cx="715.6" cy="703.0" r="10.7" fill="url(#gr)"/>
<circle cx="734.6" cy="701.0" r="10.7" fill="url(#gr)"/>
<circle cx="750.2" cy="702.5" r="10.7" fill="url(#gr)"/>
<circle cx="765.0" cy="698.4" r="10.7" fill="url(#gr)"/>
<circle cx="778.3" cy="693.3" r="10.7" fill="url(#gr)"/>
<circle cx="790.5" cy="693.2" r="10.7" fill="url(#gr)"/>
<circle cx="801.6" cy="689.9" r="10.7" fill="url(#gr)"/>
<circle cx="811.9" cy="688.9" r="10.7" fill="url(#gr)"/>
<circle cx="821.5" cy="687.6" r="10.7" fill="url(#gr)"/>
<circle cx="830.4" cy="685.4" r="10.7" fill="url(#gr)"/>
<circle cx="838.8" cy="683.2" r="10.7" fill="url(#gr)"/>
<circle cx="846.7" cy="681.3" r="10.7" fill="url(#gr)"/>
<circle cx="854.1" cy="678.8" r="10.7" fill="url(#gr)"/>
<circle cx="861.2" cy="675.7" r="10.7" fill="url(#gr)"/>
<circle cx="867.9" cy="672.4" r="10.7" fill="url(#gr)"/>
<circle cx="874.3" cy="668.7" r="10.7" fill="url(#gr)"/>
<circle cx="880.4" cy="666.0" r="10.7" fill="url(#gr)"/>
<circle cx="886.2" cy="663.3" r="10.7" fill="url(#gr)"/>
<circle cx="891.8" cy="660.9" r="10.7" fill="url(#gr)"/>
<circle cx="897.2" cy="658.2" r="10.7" fill="url(#gr)"/>
<circle cx="902.4" cy="654.9" r="10.7" fill="url(#gr)"/>
<circle cx="907.4" cy="651.9" r="10.7" fill="url(#gr)"/>
<circle cx="912.2" cy="648.6" r="10.7" fill="url(#gr)"/>
<circle cx="916.8" cy="644.7" r="10.7" fill="url(#gr)"/>
<circle cx="921.3" cy="640.1" r="10.7" fill="url(#gr)"/>
<circle cx="925.6" cy="634.5" r="10.7" fill="url(#gr)"/>
<circle cx="929.9" cy="626.8" r="10.7" fill="url(#gr)"/>
<circle cx="933.9" cy="617.9" r="10.7" fill="url(#gr)"/>
<circle cx="937.9" cy="608.8" r="10.7" fill="url(#gr)"/>
<circle cx="941.7" cy="598.8" r="10.7" fill="url(#gr)"/>
<circle cx="945.5" cy="588.8" r="10.7" fill="url(#gr)"/>
<circle cx="949.1" cy="577.0" r="10.7" fill="url(#gr)"/>
<circle cx="952.7" cy="565.8" r="10.7" fill="url(#gr)"/>
<circle cx="956.1" cy="555.2" r="10.7" fill="url(#gr)"/>
<circle cx="959.5" cy="544.9" r="10.7" fill="url(#gr)"/>
<circle cx="962.8" cy="535.1" r="10.7" fill="url(#gr)"/>
<circle cx="966.0" cy="526.2" r="10.7" fill="url(#gr)"/>
<circle cx="969.1" cy="518.6" r="10.7" fill="url(#gr)"/>
<circle cx="972.2" cy="511.7" r="10.7" fill="url(#gr)"/>
<circle cx="975.2" cy="505.0" r="10.7" fill="url(#gr)"/>
<circle cx="978.1" cy="497.7" r="10.7" fill="url(#gr)"/>
<circle cx="981.0" cy="493.0" r="10.7" fill="url(#gr)"/>
<circle cx="983.8" cy="490.3" r="10.7" fill="url(#gr)"/>
<circle cx="986.5" cy="488.4" r="10.7" fill="url(#gr)"/>
<circle cx="987.9" cy="487.6" r="10.7" fill="url(#gr)"/>
<circle cx="989.2" cy="486.8" r="10.7" fill="url(#gr)"/>
<circle cx="990.6" cy="486.1" r="10.7" fill="url(#gr)"/>
<circle cx="991.9" cy="485.3" r="10.7" fill="url(#gr)"/>
<circle cx="993.2" cy="484.5" r="10.7" fill="url(#gr)"/>
<circle cx="994.5" cy="483.7" r="10.7" fill="url(#gr)"/>
<circle cx="995.7" cy="482.9" r="10.7" fill="url(#gr)"/>
<circle cx="997.0" cy="482.1" r="10.7" fill="url(#gr)"/>
<circle cx="998.3" cy="480.9" r="10.7" fill="url(#gr)"/>
<circle cx="999.5" cy="479.8" r="10.7" fill="url(#gr)"/>
<circle cx="1000.7" cy="478.3" r="10.7" fill="url(#gr)"/>
<circle cx="1002.0" cy="476.7" r="10.7" fill="url(#gr)"/>
<circle cx="1003.2" cy="474.7" r="10.7" fill="url(#gr)"/>
<circle cx="1004.4" cy="472.6" r="10.7" fill="url(#gr)"/>
<circle cx="1005.2" cy="470.7" r="10.7" fill="url(#gr)"/>
<circle cx="1005.9" cy="468.8" r="10.7" fill="url(#gr)"/>
<circle cx="1006.7" cy="466.9" r="10.7" fill="url(#gr)"/>
<circle cx="1007.5" cy="464.8" r="10.7" fill="url(#gr)"/>
<circle cx="1008.3" cy="462.8" r="10.7" fill="url(#gr)"/>
<circle cx="1009.1" cy="460.7" r="10.7" fill="url(#gr)"/>
<circle cx="1009.8" cy="458.7" r="10.7" fill="url(#gr)"/>
<circle cx="1010.6" cy="456.6" r="10.7" fill="url(#gr)"/>
<circle cx="1011.3" cy="454.5" r="10.7" fill="url(#gr)"/>
<circle cx="1012.5" cy="452.0" r="10.7" fill="url(#gr)"/>
<circle cx="1013.6" cy="449.5" r="10.7" fill="url(#gr)"/>
<circle cx="1014.7" cy="447.4" r="10.7" fill="url(#gr)"/>
<circle cx="1015.8" cy="445.2" r="10.7" fill="url(#gr)"/>
<circle cx="1016.9" cy="443.3" r="10.7" fill="url(#gr)"/>
<circle cx="1018.0" cy="441.3" r="10.7" fill="url(#gr)"/>
<circle cx="1019.1" cy="439.4" r="10.7" fill="url(#gr)"/>
<circle cx="1020.1" cy="437.4" r="10.7" fill="url(#gr)"/>
<circle cx="1021.2" cy="435.5" r="10.7" fill="url(#gr)"/>
<circle cx="1022.2" cy="433.7" r="10.7" fill="url(#gr)"/>
<circle cx="1023.3" cy="431.9" r="10.7" fill="url(#gr)"/>
<circle cx="1024.3" cy="430.1" r="10.7" fill="url(#gr)"/>
<circle cx="1025.3" cy="428.3" r="10.7" fill="url(#gr)"/>
<circle cx="1026.4" cy="426.6" r="10.7" fill="url(#gr)"/>
<circle cx="1027.4" cy="424.9" r="10.7" fill="url(#gr)"/>
<circle cx="1028.4" cy="423.1" r="10.7" fill="url(#gr)"/>
<circle cx="1029.4" cy="421.5" r="10.7" fill="url(#gr)"/>
<circle cx="1030.4" cy="419.8" r="10.7" fill="url(#gr)"/>
<circle cx="1031.3" cy="418.1" r="10.7" fill="url(#gr)"/>
<circle cx="1032.3" cy="416.4" r="10.7" fill="url(#gr)"/>
<circle cx="1033.3" cy="414.7" r="10.7" fill="url(#gr)"/>
<circle cx="1034.2" cy="413.0" r="10.7" fill="url(#gr)"/>
<circle cx="1035.2" cy="411.2" r="10.7" fill="url(#gr)"/>
<circle cx="1036.1" cy="409.5" r="10.7" fill="url(#gr)"/>
<circle cx="1037.1" cy="407.8" r="10.7" fill="url(#gr)"/>
<circle cx="1038.0" cy="406.0" r="10.7" fill="url(#gr)"/>
<circle cx="1038.9" cy="404.3" r="10.7" fill="url(#gr)"/>
<circle cx="1039.9" cy="402.6" r="10.7" fill="url(#gr)"/>
<circle cx="1040.8" cy="401.0" r="10.7" fill="url(#gr)"/>
<circle cx="1041.7" cy="399.3" r="10.7" fill="url(#gr)"/>
<circle cx="1042.6" cy="397.8" r="10.7" fill="url(#gr)"/>
<circle cx="1043.5" cy="396.3" r="10.7" fill="url(#gr)"/>
<circle cx="1044.4" cy="394.9" r="10.7" fill="url(#gr)"/>
<circle cx="1045.3" cy="393.5" r="10.7" fill="url(#gr)"/>
<circle cx="1046.1" cy="392.2" r="10.7" fill="url(#gr)"/>
<circle cx="1047.0" cy="390.9" r="10.7" fill="url(#gr)"/>
<circle cx="1048.7" cy="388.6" r="10.7" fill="url(#gr)"/>
<circle cx="1050.4" cy="386.4" r="10.7" fill="url(#gr)"/>
<circle cx="1052.1" cy="384.3" r="10.7" fill="url(#gr)"/>
<circle cx="1053.8" cy="382.3" r="10.7" fill="url(#gr)"/>
<circle cx="1055.4" cy="380.3" r="10.7" fill="url(#gr)"/>
<circle cx="1057.1" cy="378.3" r="10.7" fill="url(#gr)"/>
<circle cx="1058.7" cy="376.2" r="10.7" fill="url(#gr)"/>
<circle cx="1060.3" cy="374.2" r="10.7" fill="url(#gr)"/>
<circle cx="1061.8" cy="372.1" r="10.7" fill="url(#gr)"/>
<circle cx="1063.4" cy="370.0" r="10.7" fill="url(#gr)"/>
<circle cx="1064.9" cy="368.1" r="10.7" fill="url(#gr)"/>
<circle cx="1066.4" cy="366.2" r="10.7" fill="url(#gr)"/>
<circle cx="1067.9" cy="364.4" r="10.7" fill="url(#gr)"/>
<circle cx="1069.4" cy="362.9" r="10.7" fill="url(#gr)"/>
<circle cx="1070.9" cy="361.4" r="10.7" fill="url(#gr)"/>
<circle cx="1072.3" cy="360.1" r="10.7" fill="url(#gr)"/>
<circle cx="1073.8" cy="358.9" r="10.7" fill="url(#gr)"/>
<circle cx="1075.2" cy="357.7" r="10.7" fill="url(#gr)"/>
<circle cx="1076.6" cy="356.6" r="10.7" fill="url(#gr)"/>
<circle cx="1078.0" cy="355.6" r="10.7" fill="url(#gr)"/>
<circle cx="1079.4" cy="354.6" r="10.7" fill="url(#gr)"/>
<circle cx="1080.7" cy="353.7" r="10.7" fill="url(#gr)"/>
<circle cx="1082.1" cy="352.8" r="10.7" fill="url(#gr)"/>
<circle cx="1083.4" cy="351.9" r="10.7" fill="url(#gr)"/>
<circle cx="1084.7" cy="351.1" r="10.7" fill="url(#gr)"/>
<circle cx="1086.1" cy="350.3" r="10.7" fill="url(#gr)"/>
<circle cx="1087.4" cy="349.6" r="10.7" fill="url(#gr)"/>
<circle cx="1088.6" cy="348.9" r="10.7" fill="url(#gr)"/>
<circle cx="1089.9" cy="348.3" r="10.7" fill="url(#gr)"/>
<circle cx="1091.2" cy="347.8" r="10.7" fill="url(#gr)"/>
<circle cx="1092.4" cy="347.2" r="10.7" fill="url(#gr)"/>
<circle cx="1093.7" cy="346.7" r="10.7" fill="url(#gr)"/>
<circle cx="1094.9" cy="346.1" r="10.7" fill="url(#gr)"/>
<circle cx="1096.1" cy="345.6" r="10.7" fill="url(#gr)"/>
<circle cx="1097.3" cy="345.0" r="10.7" fill="url(#gr)"/>
<circle cx="1098.5" cy="344.5" r="10.7" fill="url(#gr)"/>
<circle cx="1099.7" cy="343.8" r="10.7" fill="url(#gr)"/>
<circle cx="1100.9" cy="343.2" r="10.7" fill="url(#gr)"/>
<circle cx="1102.0" cy="342.5" r="10.7" fill="url(#gr)"/>
<circle cx="1103.2" cy="341.8" r="10.7" fill="url(#gr)"/>
<circle cx="1104.3" cy="341.0" r="10.7" fill="url(#gr)"/>
<circle cx="1105.5" cy="340.0" r="10.7" fill="url(#gr)"/>
<circle cx="1106.6" cy="338.7" r="10.7" fill="url(#gr)"/>
<circle cx="1107.7" cy="337.4" r="10.7" fill="url(#gr)"/>
<circle cx="1108.8" cy="336.3" r="10.7" fill="url(#gr)"/>
<circle cx="1109.9" cy="335.4" r="10.7" fill="url(#gr)"/>
<circle cx="1111.0" cy="334.7" r="10.7" fill="url(#gr)"/>
<circle cx="1112.1" cy="334.1" r="10.7" fill="url(#gr)"/>
<circle cx="1113.2" cy="333.6" r="10.7" fill="url(#gr)"/>
<circle cx="1114.2" cy="333.1" r="10.7" fill="url(#gr)"/>
<circle cx="1115.3" cy="332.7" r="10.7" fill="url(#gr)"/>
<circle cx="1116.3" cy="332.2" r="10.7" fill="url(#gr)"/>
<circle cx="1117.4" cy="331.9" r="10.7" fill="url(#gr)"/>
<circle cx="1118.4" cy="331.5" r="10.7" fill="url(#gr)"/>
<circle cx="1119.4" cy="331.1" r="10.7" fill="url(#gr)"/>
<circle cx="1120.4" cy="330.8" r="10.7" fill="url(#gr)"/>
<circle cx="1121.4" cy="330.4" r="10.7" fill="url(#gr)"/>
<circle cx="1122.4" cy="330.0" r="10.7" fill="url(#gr)"/>
<circle cx="1123.4" cy="329.6" r="10.7" fill="url(#gr)"/>
<circle cx="1124.4" cy="329.1" r="10.7" fill="url(#gr)"/>
<circle cx="1125.4" cy="328.7" r="10.7" fill="url(#gr)"/>
<circle cx="1126.4" cy="328.1" r="10.7" fill="url(#gr)"/>
<circle cx="1127.3" cy="327.6" r="10.7" fill="url(#gr)"/>
<circle cx="1128.3" cy="327.1" r="10.7" fill="url(#gr)"/>
<circle cx="1129.2" cy="326.5" r="10.7" fill="url(#gr)"/>
<circle cx="1130.2" cy="325.9" r="10.7" fill="url(#gr)"/>
<circle cx="1131.1" cy="325.4" r="10.7" fill="url(#gr)"/>
<circle cx="1132.1" cy="324.8" r="10.7" fill="url(#gr)"/>
<circle cx="1133.0" cy="324.3" r="10.7" fill="url(#gr)"/>
<circle cx="1133.9" cy="323.7" r="10.7" fill="url(#gr)"/>
<circle cx="1134.8" cy="323.2" r="10.7" fill="url(#gr)"/>
<circle cx="1135.7" cy="322.7" r="10.7" fill="url(#gr)"/>
<circle cx="1136.6" cy="322.3" r="10.7" fill="url(#gr)"/>
<circle cx="1137.5" cy="321.8" r="10.7" fill="url(#gr)"/>
<circle cx="1138.4" cy="321.4" r="10.7" fill="url(#gr)"/>
<circle cx="1139.3" cy="321.1" r="10.7" fill="url(#gr)"/>
<circle cx="1140.2" cy="320.7" r="10.7" fill="url(#gr)"/>
<circle cx="1141.0" cy="320.4" r="10.7" fill="url(#gr)"/>
<circle cx="1141.9" cy="320.0" r="10.7" fill="url(#gr)"/>
<circle cx="1142.8" cy="319.7" r="10.7" fill="url(#gr)"/>
<circle cx="1143.6" cy="319.4" r="10.7" fill="url(#gr)"/>
<circle cx="1144.5" cy="319.1" r="10.7" fill="url(#gr)"/>
<circle cx="1145.3" cy="318.9" r="10.7" fill="url(#gr)"/>
<circle cx="1146.1" cy="318.6" r="10.7" fill="url(#gr)"/>
<circle cx="1147.0" cy="318.3" r="10.7" fill="url(#gr)"/>
<circle cx="1147.8" cy="318.1" r="10.7" fill="url(#gr)"/>
<circle cx="1148.6" cy="317.8" r="10.7" fill="url(#gr)"/>
<circle cx="1149.4" cy="317.6" r="10.7" fill="url(#gr)"/>
<circle cx="1150.3" cy="317.3" r="10.7" fill="url(#gr)"/>
<circle cx="1151.1" cy="317.1" r="10.7" fill="url(#gr)"/>
<circle cx="1151.9" cy="316.8" r="10.7" fill="url(#gr)"/>
<circle cx="1152.7" cy="316.6" r="10.7" fill="url(#gr)"/>
<circle cx="1153.5" cy="316.4" r="10.7" fill="url(#gr)"/>
<circle cx="1154.3" cy="316.1" r="10.7" fill="url(#gr)"/>
<circle cx="1155.0" cy="315.9" r="10.7" fill="url(#gr)"/>
<circle cx="1155.8" cy="315.7" r="10.7" fill="url(#gr)"/>
<circle cx="1156.6" cy="315.6" r="10.7" fill="url(#gr)"/>
<circle cx="1157.4" cy="315.4" r="10.7" fill="url(#gr)"/>
<circle cx="1158.1" cy="315.2" r="10.7" fill="url(#gr)"/>
<circle cx="1158.9" cy="315.0" r="10.7" fill="url(#gr)"/>
<circle cx="1159.7" cy="314.9" r="10.7" fill="url(#gr)"/>
<circle cx="1160.4" cy="314.7" r="10.7" fill="url(#gr)"/>
<circle cx="1161.2" cy="314.5" r="10.7" fill="url(#gr)"/>
<circle cx="1161.9" cy="314.4" r="10.7" fill="url(#gr)"/>
<circle cx="1162.7" cy="314.2" r="10.7" fill="url(#gr)"/>
<circle cx="1163.4" cy="314.0" r="10.7" fill="url(#gr)"/>
<circle cx="1164.1" cy="313.8" r="10.7" fill="url(#gr)"/>
<circle cx="1164.9" cy="313.6" r="10.7" fill="url(#gr)"/>
<circle cx="1165.6" cy="313.4" r="10.7" fill="url(#gr)"/>
<circle cx="1166.3" cy="313.1" r="10.7" fill="url(#gr)"/>
<circle cx="1167.0" cy="312.9" r="10.7" fill="url(#gr)"/>
<circle cx="1167.7" cy="312.6" r="10.7" fill="url(#gr)"/>
<circle cx="1168.5" cy="312.3" r="10.7" fill="url(#gr)"/>
<circle cx="1169.2" cy="312.0" r="10.7" fill="url(#gr)"/>
<circle cx="1169.9" cy="311.6" r="10.7" fill="url(#gr)"/>
<circle cx="1170.6" cy="311.3" r="10.7" fill="url(#gr)"/>
<circle cx="1171.3" cy="310.9" r="10.7" fill="url(#gr)"/>
<circle cx="1172.0" cy="310.5" r="10.7" fill="url(#gr)"/>
<circle cx="1172.6" cy="310.0" r="10.7" fill="url(#gr)"/>
<circle cx="1173.3" cy="309.6" r="10.7" fill="url(#gr)"/>
<circle cx="1174.0" cy="309.1" r="10.7" fill="url(#gr)"/>
<circle cx="1174.7" cy="308.7" r="10.7" fill="url(#gr)"/>
<circle cx="1175.4" cy="308.2" r="10.7" fill="url(#gr)"/>
<circle cx="1176.0" cy="307.7" r="10.7" fill="url(#gr)"/>
<circle cx="1176.7" cy="307.2" r="10.7" fill="url(#gr)"/>
<circle cx="1177.4" cy="306.7" r="10.7" fill="url(#gr)"/>
<circle cx="1178.0" cy="306.3" r="10.7" fill="url(#gr)"/>
<circle cx="1178.7" cy="305.8" r="10.7" fill="url(#gr)"/>
<circle cx="1179.4" cy="305.3" r="10.7" fill="url(#gr)"/>
<circle cx="1180.0" cy="304.8" r="10.7" fill="url(#gr)"/>
<circle cx="1180.7" cy="304.3" r="10.7" fill="url(#gr)"/>
<circle cx="1181.3" cy="303.8" r="10.7" fill="url(#gr)"/>
<circle cx="1181.9" cy="303.4" r="10.7" fill="url(#gr)"/>
<circle cx="1182.6" cy="302.9" r="10.7" fill="url(#gr)"/>
<circle cx="1183.2" cy="302.4" r="10.7" fill="url(#gr)"/>
<circle cx="1183.9" cy="302.0" r="10.7" fill="url(#gr)"/>
<circle cx="1184.5" cy="301.5" r="10.7" fill="url(#gr)"/>
<circle cx="1185.1" cy="301.0" r="10.7" fill="url(#gr)"/>
<circle cx="1185.7" cy="300.5" r="10.7" fill="url(#gr)"/>
<circle cx="1186.4" cy="300.1" r="10.7" fill="url(#gr)"/>
<circle cx="1187.0" cy="299.6" r="10.7" fill="url(#gr)"/>
<circle cx="1187.6" cy="299.1" r="10.7" fill="url(#gr)"/>
<circle cx="1188.2" cy="298.6" r="10.7" fill="url(#gr)"/>
<circle cx="1188.8" cy="298.1" r="10.7" fill="url(#gr)"/>
<circle cx="1189.4" cy="297.6" r="10.7" fill="url(#gr)"/>
<circle cx="1190.0" cy="297.1" r="10.7" fill="url(#gr)"/>
<circle cx="1190.6" cy="296.6" r="10.7" fill="url(#gr)"/>
<circle cx="1191.2" cy="296.1" r="10.7" fill="url(#gr)"/>
<circle cx="1191.8" cy="295.6" r="10.7" fill="url(#gr)"/>
<circle cx="1192.4" cy="295.1" r="10.7" fill="url(#gr)"/>
<circle cx="1193.0" cy="294.6" r="10.7" fill="url(#gr)"/>
<circle cx="1193.6" cy="294.1" r="10.7" fill="url(#gr)"/>
<circle cx="1194.2" cy="293.6" r="10.7" fill="url(#gr)"/>
<circle cx="1194.8" cy="293.1" r="10.7" fill="url(#gr)"/>
<circle cx="1195.4" cy="292.6" r="10.7" fill="url(#gr)"/>
<circle cx="1196.0" cy="292.1" r="10.7" fill="url(#gr)"/>
<circle cx="1196.5" cy="291.6" r="10.7" fill="url(#gr)"/>
<circle cx="1197.1" cy="291.1" r="10.7" fill="url(#gr)"/>
<circle cx="1197.7" cy="290.6" r="10.7" fill="url(#gr)"/>
<circle cx="1198.2" cy="290.1" r="10.7" fill="url(#gr)"/>
<circle cx="1198.8" cy="289.6" r="10.7" fill="url(#gr)"/>
<circle cx="1199.4" cy="289.1" r="10.7" fill="url(#gr)"/>
<circle cx="1199.9" cy="288.5" r="10.7" fill="url(#gr)"/>
<circle cx="1200.5" cy="288.0" r="10.7" fill="url(#gr)"/>
<circle cx="1201.1" cy="287.5" r="10.7" fill="url(#gr)"/>
<circle cx="1201.6" cy="287.0" r="10.7" fill="url(#gr)"/>
<circle cx="1202.2" cy="286.4" r="10.7" fill="url(#gr)"/>
<circle cx="1202.7" cy="285.9" r="10.7" fill="url(#gr)"/>
<circle cx="1203.3" cy="285.4" r="10.7" fill="url(#gr)"/>
<circle cx="1203.8" cy="284.9" r="10.7" fill="url(#gr)"/>
<circle cx="1204.4" cy="284.3" r="10.7" fill="url(#gr)"/>
<circle cx="1204.9" cy="283.8" r="10.7" fill="url(#gr)"/>
<circle cx="1205.4" cy="283.2" r="10.7" fill="url(#gr)"/>
<circle cx="1206.0" cy="282.7" r="10.7" fill="url(#gr)"/>
<circle cx="1206.5" cy="282.2" r="10.7" fill="url(#gr)"/>
<circle cx="1207.1" cy="281.6" r="10.7" fill="url(#gr)"/>
<circle cx="1207.6" cy="281.1" r="10.7" fill="url(#gr)"/>
<circle cx="1208.1" cy="280.5" r="10.7" fill="url(#gr)"/>
<circle cx="1208.6" cy="280.0" r="10.7" fill="url(#gr)"/>
<circle cx="1209.2" cy="279.4" r="10.7" fill="url(#gr)"/>
<circle cx="1209.7" cy="278.8" r="10.7" fill="url(#gr)"/>
<circle cx="1210.2" cy="278.3" r="10.7" fill="url(#gr)"/>
<circle cx="1210.7" cy="277.7" r="10.7" fill="url(#gr)"/>
<circle cx="1211.3" cy="277.1" r="10.7" fill="url(#gr)"/>
<circle cx="1211.8" cy="276.5" r="10.7" fill="url(#gr)"/>
<circle cx="1212.3" cy="276.0" r="10.7" fill="url(#gr)"/>
<circle cx="1212.8" cy="275.4" r="10.7" fill="url(#gr)"/>
<circle cx="1213.3" cy="274.9" r="10.7" fill="url(#gr)"/>
<circle cx="1213.8" cy="274.3" r="10.7" fill="url(#gr)"/>
<circle cx="1214.3" cy="273.8" r="10.7" fill="url(#gr)"/>
<circle cx="1214.8" cy="273.3" r="10.7" fill="url(#gr)"/>
<circle cx="1215.3" cy="272.8" r="10.7" fill="url(#gr)"/>
<circle cx="1215.8" cy="272.3" r="10.7" fill="url(#gr)"/>
<circle cx="1216.3" cy="271.8" r="10.7" fill="url(#gr)"/>
<circle cx="1216.8" cy="271.3" r="10.7" fill="url(#gr)"/>
<circle cx="1217.3" cy="270.9" r="10.7" fill="url(#gr)"/>
<circle cx="1217.8" cy="270.4" r="10.7" fill="url(#gr)"/>
<circle cx="1218.3" cy="270.0" r="10.7" fill="url(#gr)"/>
<circle cx="1218.8" cy="269.6" r="10.7" fill="url(#gr)"/>
<circle cx="1219.3" cy="269.2" r="10.7" fill="url(#gr)"/>
<circle cx="1219.8" cy="268.7" r="10.7" fill="url(#gr)"/>
<circle cx="1220.3" cy="268.3" r="10.7" fill="url(#gr)"/>
<circle cx="1220.7" cy="267.9" r="10.7" fill="url(#gr)"/>
<circle cx="1221.2" cy="267.5" r="10.7" fill="url(#gr)"/>
<circle cx="1221.7" cy="267.1" r="10.7" fill="url(#gr)"/>
<circle cx="1222.2" cy="266.6" r="10.7" fill="url(#gr)"/>
<circle cx="1222.6" cy="266.2" r="10.7" fill="url(#gr)"/>
<circle cx="1223.1" cy="265.7" r="10.7" fill="url(#gr)"/>
<circle cx="1223.6" cy="265.2" r="10.7" fill="url(#gr)"/>
<circle cx="1224.1" cy="264.8" r="10.7" fill="url(#gr)"/>
<circle cx="1224.5" cy="264.3" r="10.7" fill="url(#gr)"/>
<circle cx="1225.0" cy="263.8" r="10.7" fill="url(#gr)"/>
<circle cx="1225.5" cy="263.3" r="10.7" fill="url(#gr)"/>
<circle cx="1225.9" cy="262.8" r="10.7" fill="url(#gr)"/>
<circle cx="1226.4" cy="262.3" r="10.7" fill="url(#gr)"/>
<circle cx="1226.9" cy="261.8" r="10.7" fill="url(#gr)"/>
<circle cx="1227.3" cy="261.3" r="10.7" fill="url(#gr)"/>
<circle cx="1227.8" cy="260.8" r="10.7" fill="url(#gr)"/>
<circle cx="1228.2" cy="260.3" r="10.7" fill="url(#gr)"/>
<circle cx="1228.7" cy="259.8" r="10.7" fill="url(#gr)"/>
<circle cx="1229.1" cy="259.3" r="10.7" fill="url(#gr)"/>
<circle cx="1229.6" cy="258.8" r="10.7" fill="url(#gr)"/>
<circle cx="1230.0" cy="258.3" r="10.7" fill="url(#gr)"/>
<circle cx="1230.5" cy="257.8" r="10.7" fill="url(#gr)"/>
<circle cx="1230.9" cy="257.3" r="10.7" fill="url(#gr)"/>
<circle cx="1231.4" cy="256.9" r="10.7" fill="url(#gr)"/>
<circle cx="1231.8" cy="256.4" r="10.7" fill="url(#gr)"/>
<circle cx="1232.3" cy="255.9" r="10.7" fill="url(#gr)"/>
<circle cx="1232.7" cy="255.4" r="10.7" fill="url(#gr)"/>
<circle cx="1233.2" cy="255.0" r="10.7" fill="url(#gr)"/>
<circle cx="1233.6" cy="254.5" r="10.7" fill="url(#gr)"/>
<circle cx="1234.0" cy="254.1" r="10.7" fill="url(#gr)"/>
<circle cx="1234.5" cy="253.6" r="10.7" fill="url(#gr)"/>
<circle cx="1234.9" cy="253.2" r="10.7" fill="url(#gr)"/>
<circle cx="1235.3" cy="252.8" r="10.7" fill="url(#gr)"/>
<circle cx="1235.8" cy="252.3" r="10.7" fill="url(#gr)"/>
<circle cx="1236.2" cy="251.9" r="10.7" fill="url(#gr)"/>
<circle cx="1236.6" cy="251.5" r="10.7" fill="url(#gr)"/>
<circle cx="1237.0" cy="251.1" r="10.7" fill="url(#gr)"/>
<circle cx="1237.5" cy="250.6" r="10.7" fill="url(#gr)"/>
<circle cx="1237.9" cy="250.2" r="10.7" fill="url(#gr)"/>
<circle cx="1238.3" cy="249.8" r="10.7" fill="url(#gr)"/>
<circle cx="1238.7" cy="249.3" r="10.7" fill="url(#gr)"/>
<circle cx="1239.2" cy="248.9" r="10.7" fill="url(#gr)"/>
<circle cx="1239.6" cy="248.5" r="10.7" fill="url(#gr)"/>
<circle cx="1240.0" cy="248.0" r="10.7" fill="url(#gr)"/>
<circle cx="1240.4" cy="247.6" r="10.7" fill="url(#gr)"/>
<circle cx="1240.8" cy="247.1" r="10.7" fill="url(#gr)"/>
<circle cx="1241.3" cy="246.6" r="10.7" fill="url(#gr)"/>
<circle cx="1241.7" cy="246.1" r="10.7" fill="url(#gr)"/>
<circle cx="1242.1" cy="245.6" r="10.7" fill="url(#gr)"/>
<circle cx="1242.5" cy="245.1" r="10.7" fill="url(#gr)"/>
<circle cx="1242.9" cy="244.6" r="10.7" fill="url(#gr)"/>
<circle cx="1243.3" cy="244.1" r="10.7" fill="url(#gr)"/>
<circle cx="1243.7" cy="243.6" r="10.7" fill="url(#gr)"/>
<circle cx="1244.1" cy="243.1" r="10.7" fill="url(#gr)"/>
<circle cx="1244.5" cy="242.6" r="10.7" fill="url(#gr)"/>
<circle cx="1244.9" cy="242.1" r="10.7" fill="url(#gr)"/>
<circle cx="1245.3" cy="241.6" r="10.7" fill="url(#gr)"/>
<circle cx="1245.7" cy="241.1" r="10.7" fill="url(#gr)"/>
<circle cx="1246.1" cy="240.6" r="10.7" fill="url(#gr)"/>
<circle cx="1246.5" cy="240.2" r="10.7" fill="url(#gr)"/>
<circle cx="1246.9" cy="239.7" r="10.7" fill="url(#gr)"/>
<circle cx="1247.3" cy="239.3" r="10.7" fill="url(#gr)"/>
<circle cx="1247.7" cy="238.9" r="10.7" fill="url(#gr)"/>
<circle cx="1248.1" cy="238.4" r="10.7" fill="url(#gr)"/>
<circle cx="1248.5" cy="238.0" r="10.7" fill="url(#gr)"/>
<circle cx="1248.9" cy="237.6" r="10.7" fill="url(#gr)"/>
<circle cx="1249.3" cy="237.2" r="10.7" fill="url(#gr)"/>
<circle cx="1249.7" cy="236.8" r="10.7" fill="url(#gr)"/>
<circle cx="1250.1" cy="236.4" r="10.7" fill="url(#gr)"/>
<circle cx="1250.5" cy="236.0" r="10.7" fill="url(#gr)"/>
<circle cx="1250.8" cy="235.6" r="10.7" fill="url(#gr)"/>
<circle cx="1251.2" cy="235.2" r="10.7" fill="url(#gr)"/>
<circle cx="1251.6" cy="234.8" r="10.7" fill="url(#gr)"/>
<circle cx="1252.0" cy="234.4" r="10.7" fill="url(#gr)"/>
<circle cx="1252.4" cy="234.0" r="10.7" fill="url(#gr)"/>
<circle cx="1252.8" cy="233.6" r="10.7" fill="url(#gr)"/>
<circle cx="1253.1" cy="233.2" r="10.7" fill="url(#gr)"/>
<circle cx="1253.5" cy="232.8" r="10.7" fill="url(#gr)"/>
<circle cx="1253.9" cy="232.5" r="10.7" fill="url(#gr)"/>
<circle cx="1254.3" cy="232.1" r="10.7" fill="url(#gr)"/>
<circle cx="1254.6" cy="231.7" r="10.7" fill="url(#gr)"/>
<circle cx="1255.0" cy="231.4" r="10.7" fill="url(#gr)"/>
<circle cx="1255.4" cy="231.0" r="10.7" fill="url(#gr)"/>
<circle cx="1255.8" cy="230.6" r="10.7" fill="url(#gr)"/>
<circle cx="1256.1" cy="230.3" r="10.7" fill="url(#gr)"/>
<circle cx="1256.5" cy="229.9" r="10.7" fill="url(#gr)"/>
<circle cx="1256.9" cy="229.6" r="10.7" fill="url(#gr)"/>
<circle cx="1257.2" cy="229.2" r="10.7" fill="url(#gr)"/>
<circle cx="1257.6" cy="228.8" r="10.7" fill="url(#gr)"/>
<circle cx="1258.0" cy="228.5" r="10.7" fill="url(#gr)"/>
<circle cx="1258.3" cy="228.1" r="10.7" fill="url(#gr)"/>
<circle cx="1258.7" cy="227.8" r="10.7" fill="url(#gr)"/>
<circle cx="1259.1" cy="227.4" r="10.7" fill="url(#gr)"/>
<circle cx="1259.4" cy="227.1" r="10.7" fill="url(#gr)"/>
<circle cx="1259.8" cy="226.8" r="10.7" fill="url(#gr)"/>
<circle cx="1260.2" cy="226.4" r="10.7" fill="url(#gr)"/>
<circle cx="1260.5" cy="226.1" r="10.7" fill="url(#gr)"/>
<circle cx="1260.9" cy="225.7" r="10.7" fill="url(#gr)"/>
<circle cx="1261.2" cy="225.4" r="10.7" fill="url(#gr)"/>
<circle cx="1261.6" cy="225.1" r="10.7" fill="url(#gr)"/>
<circle cx="1261.9" cy="224.8" r="10.7" fill="url(#gr)"/>
<circle cx="1262.3" cy="224.4" r="10.7" fill="url(#gr)"/>
<circle cx="1262.6" cy="224.1" r="10.7" fill="url(#gr)"/>
<circle cx="1263.0" cy="223.8" r="10.7" fill="url(#gr)"/>
<circle cx="1263.4" cy="223.5" r="10.7" fill="url(#gr)"/>
<circle cx="1263.7" cy="223.1" r="10.7" fill="url(#gr)"/>
<circle cx="1264.1" cy="222.8" r="10.7" fill="url(#gr)"/>
<circle cx="1264.4" cy="222.5" r="10.7" fill="url(#gr)"/>
<circle cx="1264.7" cy="222.2" r="10.7" fill="url(#gr)"/>
<circle cx="1265.1" cy="221.9" r="10.7" fill="url(#gr)"/>
<circle cx="1265.4" cy="221.6" r="10.7" fill="url(#gr)"/>
<circle cx="1265.8" cy="221.3" r="10.7" fill="url(#gr)"/>
<circle cx="1266.1" cy="221.0" r="10.7" fill="url(#gr)"/>
<circle cx="1266.5" cy="220.7" r="10.7" fill="url(#gr)"/>
<circle cx="1266.8" cy="220.4" r="10.7" fill="url(#gr)"/>
<circle cx="1267.2" cy="220.1" r="10.7" fill="url(#gr)"/>
<circle cx="1267.5" cy="219.8" r="10.7" fill="url(#gr)"/>
<circle cx="1267.8" cy="219.5" r="10.7" fill="url(#gr)"/>
<circle cx="1268.2" cy="219.2" r="10.7" fill="url(#gr)"/>
<circle cx="1268.5" cy="218.9" r="10.7" fill="url(#gr)"/>
<circle cx="1268.9" cy="218.6" r="10.7" fill="url(#gr)"/>
<circle cx="1269.2" cy="218.3" r="10.7" fill="url(#gr)"/>
<circle cx="1269.5" cy="218.0" r="10.7" fill="url(#gr)"/>
<circle cx="1269.9" cy="217.7" r="10.7" fill="url(#gr)"/>
<circle cx="1270.2" cy="217.4" r="10.7" fill="url(#gr)"/>
<circle cx="1270.5" cy="217.1" r="10.7" fill="url(#gr)"/>
<circle cx="1270.9" cy="216.8" r="10.7" fill="url(#gr)"/>
<circle cx="1271.2" cy="216.5" r="10.7" fill="url(#gr)"/>
<circle cx="1271.5" cy="216.2" r="10.7" fill="url(#gr)"/>
<circle cx="1271.9" cy="215.9" r="10.7" fill="url(#gr)"/>
<circle cx="1272.2" cy="215.6" r="10.7" fill="url(#gr)"/>
<circle cx="1272.5" cy="215.3" r="10.7" fill="url(#gr)"/>
<circle cx="1272.9" cy="215.0" r="10.7" fill="url(#gr)"/>
<circle cx="1273.2" cy="214.7" r="10.7" fill="url(#gr)"/>
<circle cx="1273.5" cy="214.4" r="10.7" fill="url(#gr)"/>
<circle cx="1273.8" cy="214.2" r="10.7" fill="url(#gr)"/>
<circle cx="1274.2" cy="213.9" r="10.7" fill="url(#gr)"/>
<circle cx="1274.5" cy="213.6" r="10.7" fill="url(#gr)"/>
<circle cx="1274.8" cy="213.4" r="10.7" fill="url(#gr)"/>
<circle cx="1275.1" cy="213.1" r="10.7" fill="url(#gr)"/>
<circle cx="1275.4" cy="212.8" r="10.7" fill="url(#gr)"/>
<circle cx="1275.8" cy="212.6" r="10.7" fill="url(#gr)"/>
<circle cx="1276.1" cy="212.3" r="10.7" fill="url(#gr)"/>
<circle cx="1276.4" cy="212.1" r="10.7" fill="url(#gr)"/>
<circle cx="1276.7" cy="211.8" r="10.7" fill="url(#gr)"/>
<circle cx="1277.0" cy="211.6" r="10.7" fill="url(#gr)"/>
<circle cx="1277.4" cy="211.4" r="10.7" fill="url(#gr)"/>
<circle cx="1277.7" cy="211.1" r="10.7" fill="url(#gr)"/>
<circle cx="1278.0" cy="210.9" r="10.7" fill="url(#gr)"/>
<circle cx="1278.3" cy="210.7" r="10.7" fill="url(#gr)"/>
<circle cx="1278.6" cy="210.4" r="10.7" fill="url(#gr)"/>
<circle cx="1278.9" cy="210.2" r="10.7" fill="url(#gr)"/>
<circle cx="1279.2" cy="210.0" r="10.7" fill="url(#gr)"/>
<circle cx="1279.6" cy="209.8" r="10.7" fill="url(#gr)"/>
<circle cx="1279.9" cy="209.5" r="10.7" fill="url(#gr)"/>
<circle cx="1280.2" cy="209.3" r="10.7" fill="url(#gr)"/>
<circle cx="1280.5" cy="209.1" r="10.7" fill="url(#gr)"/>
<circle cx="1280.8" cy="208.9" r="10.7" fill="url(#gr)"/>
<circle cx="1281.1" cy="208.7" r="10.7" fill="url(#gr)"/>
<circle cx="1281.4" cy="208.5" r="10.7" fill="url(#gr)"/>
<circle cx="1281.7" cy="208.3" r="10.7" fill="url(#gr)"/>
<circle cx="1282.0" cy="208.1" r="10.7" fill="url(#gr)"/>
<circle cx="1282.3" cy="207.9" r="10.7" fill="url(#gr)"/>
<circle cx="1282.6" cy="207.7" r="10.7" fill="url(#gr)"/>
<circle cx="1282.9" cy="207.5" r="10.7" fill="url(#gr)"/>
<circle cx="1283.3" cy="207.3" r="10.7" fill="url(#gr)"/>
<circle cx="1283.6" cy="207.2" r="10.7" fill="url(#gr)"/>
<circle cx="1283.9" cy="207.0" r="10.7" fill="url(#gr)"/>
<circle cx="1284.2" cy="206.8" r="10.7" fill="url(#gr)"/>
<circle cx="1284.5" cy="206.6" r="10.7" fill="url(#gr)"/>
<circle cx="1284.8" cy="206.5" r="10.7" fill="url(#gr)"/>
<circle cx="1285.1" cy="206.3" r="10.7" fill="url(#gr)"/>
<circle cx="1285.4" cy="206.1" r="10.7" fill="url(#gr)"/>
<circle cx="1285.7" cy="206.0" r="10.7" fill="url(#gr)"/>
<circle cx="1286.0" cy="205.8" r="10.7" fill="url(#gr)"/>
<circle cx="1286.3" cy="205.6" r="10.7" fill="url(#gr)"/>
<circle cx="1286.5" cy="205.5" r="10.7" fill="url(#gr)"/>
<circle cx="1286.8" cy="205.3" r="10.7" fill="url(#gr)"/>
<circle cx="1287.1" cy="205.2" r="10.7" fill="url(#gr)"/>
<circle cx="1287.4" cy="205.0" r="10.7" fill="url(#gr)"/>
<circle cx="1287.7" cy="204.9" r="10.7" fill="url(#gr)"/>
<circle cx="1288.0" cy="204.7" r="10.7" fill="url(#gr)"/>
<circle cx="1288.3" cy="204.6" r="10.7" fill="url(#gr)"/>
<circle cx="1288.6" cy="204.4" r="10.7" fill="url(#gr)"/>
<circle cx="1288.9" cy="204.3" r="10.7" fill="url(#gr)"/>
<circle cx="1289.2" cy="204.2" r="10.7" fill="url(#gr)"/>
<circle cx="1289.5" cy="204.0" r="10.7" fill="url(#gr)"/>
<circle cx="1289.8" cy="203.9" r="10.7" fill="url(#gr)"/>
<circle cx="1290.1" cy="203.8" r="10.7" fill="url(#gr)"/>
<circle cx="1290.3" cy="203.6" r="10.7" fill="url(#gr)"/>
<circle cx="1290.6" cy="203.5" r="10.7" fill="url(#gr)"/>
<circle cx="1290.9" cy="203.4" r="10.7" fill="url(#gr)"/>
<circle cx="1291.2" cy="203.3" r="10.7" fill="url(#gr)"/>
<circle cx="1291.5" cy="203.1" r="10.7" fill="url(#gr)"/>
<circle cx="1291.8" cy="203.0" r="10.7" fill="url(#gr)"/>
</g>
<g stroke="#000" stroke-width="3.1" fill="#000">
<line x1="917.4" y1="713.8" x2="917.4" y2="790" stroke-dasharray="17 10"/>
<polygon points="909.3,779.4 925.5,779.4 917.4,810.2" stroke-width="1.6" stroke-linejoin="round"/>
<line x1="961.7" y1="722.8" x2="961.7" y2="794" stroke-dasharray="16.5 10"/>
<polygon points="953.6,783.2 969.8,783.2 961.7,814.0" stroke-width="1.6" stroke-linejoin="round"/>
</g>
<g fill="none" stroke-linecap="round">
<line x1="370.2" y1="714.4" x2="1021.2" y2="682.8" stroke="#0d7a41" stroke-width="3.3"/>
<line x1="377.3" y1="745.7" x2="1039.9" y2="723.3" stroke="#0d7a41" stroke-width="3.3"/>
<line x1="902.3" y1="740.5" x2="1049.8" y2="262.9" stroke="#1470d6" stroke-width="3.2"/>
<line x1="951.6" y1="760.9" x2="1081.4" y2="283.9" stroke="#1470d6" stroke-width="3.2"/>
<line x1="1174.6" y1="314" x2="1346.5" y2="131.5" stroke="#f28313" stroke-width="3.3"/>
<line x1="1190" y1="294.7" x2="1375.3" y2="124.6" stroke="#f28313" stroke-width="3.3"/>
</g>
<g stroke="#000" stroke-width="2.6" stroke-linecap="round">
<line x1="362.9" y1="783.5" x2="377.4" y2="783.5"/>
<line x1="362.9" y1="738.8" x2="371.1" y2="738.8"/>
<line x1="362.9" y1="712.6" x2="371.1" y2="712.6"/>
<line x1="362.9" y1="694.0" x2="371.1" y2="694.0"/>
<line x1="362.9" y1="679.6" x2="371.1" y2="679.6"/>
<line x1="362.9" y1="667.9" x2="371.1" y2="667.9"/>
<line x1="362.9" y1="657.9" x2="371.1" y2="657.9"/>
<line x1="362.9" y1="649.3" x2="371.1" y2="649.3"/>
<line x1="362.9" y1="641.7" x2="371.1" y2="641.7"/>
<line x1="362.9" y1="634.9" x2="377.4" y2="634.9"/>
<line x1="362.9" y1="590.2" x2="371.1" y2="590.2"/>
<line x1="362.9" y1="564.0" x2="371.1" y2="564.0"/>
<line x1="362.9" y1="545.5" x2="371.1" y2="545.5"/>
<line x1="362.9" y1="531.1" x2="371.1" y2="531.1"/>
<line x1="362.9" y1="519.3" x2="371.1" y2="519.3"/>
<line x1="362.9" y1="509.4" x2="371.1" y2="509.4"/>
<line x1="362.9" y1="500.7" x2="371.1" y2="500.7"/>
<line x1="362.9" y1="493.1" x2="371.1" y2="493.1"/>
<line x1="362.9" y1="486.3" x2="377.4" y2="486.3"/>
<line x1="362.9" y1="441.6" x2="371.1" y2="441.6"/>
<line x1="362.9" y1="415.4" x2="371.1" y2="415.4"/>
<line x1="362.9" y1="396.9" x2="371.1" y2="396.9"/>
<line x1="362.9" y1="382.5" x2="371.1" y2="382.5"/>
<line x1="362.9" y1="370.7" x2="371.1" y2="370.7"/>
<line x1="362.9" y1="360.8" x2="371.1" y2="360.8"/>
<line x1="362.9" y1="352.2" x2="371.1" y2="352.2"/>
<line x1="362.9" y1="344.6" x2="371.1" y2="344.6"/>
<line x1="362.9" y1="337.8" x2="377.4" y2="337.8"/>
<line x1="362.9" y1="293.0" x2="371.1" y2="293.0"/>
<line x1="362.9" y1="266.9" x2="371.1" y2="266.9"/>
<line x1="362.9" y1="248.3" x2="371.1" y2="248.3"/>
<line x1="362.9" y1="233.9" x2="371.1" y2="233.9"/>
<line x1="362.9" y1="222.1" x2="371.1" y2="222.1"/>
<line x1="362.9" y1="212.2" x2="371.1" y2="212.2"/>
<line x1="362.9" y1="203.6" x2="371.1" y2="203.6"/>
<line x1="362.9" y1="196.0" x2="371.1" y2="196.0"/>
<line x1="362.9" y1="189.2" x2="377.4" y2="189.2"/>
<line x1="362.9" y1="144.5" x2="371.1" y2="144.5"/>
<line x1="362.9" y1="118.3" x2="371.1" y2="118.3"/>
<line x1="362.9" y1="99.7" x2="371.1" y2="99.7"/>
<line x1="362.9" y1="85.3" x2="371.1" y2="85.3"/>
<line x1="362.9" y1="73.6" x2="371.1" y2="73.6"/>
<line x1="362.9" y1="63.6" x2="371.1" y2="63.6"/>
<line x1="362.9" y1="55.0" x2="371.1" y2="55.0"/>
<line x1="362.9" y1="47.4" x2="371.1" y2="47.4"/>
<line x1="362.9" y1="816.5" x2="371.1" y2="816.5"/>
<line x1="362.9" y1="806.5" x2="371.1" y2="806.5"/>
<line x1="362.9" y1="797.9" x2="371.1" y2="797.9"/>
<line x1="362.9" y1="790.3" x2="371.1" y2="790.3"/>
<line x1="456.6" y1="828.3" x2="456.6" y2="820.3"/>
<line x1="511.4" y1="828.3" x2="511.4" y2="820.3"/>
<line x1="550.3" y1="828.3" x2="550.3" y2="820.3"/>
<line x1="580.5" y1="828.3" x2="580.5" y2="820.3"/>
<line x1="605.1" y1="828.3" x2="605.1" y2="820.3"/>
<line x1="626.0" y1="828.3" x2="626.0" y2="820.3"/>
<line x1="644.0" y1="828.3" x2="644.0" y2="820.3"/>
<line x1="660.0" y1="828.3" x2="660.0" y2="820.3"/>
<line x1="674.2" y1="828.3" x2="674.2" y2="813.5"/>
<line x1="767.9" y1="828.3" x2="767.9" y2="820.3"/>
<line x1="822.7" y1="828.3" x2="822.7" y2="820.3"/>
<line x1="861.6" y1="828.3" x2="861.6" y2="820.3"/>
<line x1="891.8" y1="828.3" x2="891.8" y2="820.3"/>
<line x1="916.4" y1="828.3" x2="916.4" y2="820.3"/>
<line x1="937.3" y1="828.3" x2="937.3" y2="820.3"/>
<line x1="955.3" y1="828.3" x2="955.3" y2="820.3"/>
<line x1="971.3" y1="828.3" x2="971.3" y2="820.3"/>
<line x1="985.5" y1="828.3" x2="985.5" y2="813.5"/>
<line x1="1079.2" y1="828.3" x2="1079.2" y2="820.3"/>
<line x1="1134.0" y1="828.3" x2="1134.0" y2="820.3"/>
<line x1="1172.9" y1="828.3" x2="1172.9" y2="820.3"/>
<line x1="1203.1" y1="828.3" x2="1203.1" y2="820.3"/>
<line x1="1227.7" y1="828.3" x2="1227.7" y2="820.3"/>
<line x1="1248.6" y1="828.3" x2="1248.6" y2="820.3"/>
<line x1="1266.6" y1="828.3" x2="1266.6" y2="820.3"/>
<line x1="1282.6" y1="828.3" x2="1282.6" y2="820.3"/>
<line x1="1296.8" y1="828.3" x2="1296.8" y2="813.5"/>
<line x1="1390.5" y1="828.3" x2="1390.5" y2="820.3"/>
</g>
<rect x="362.9" y="40.6" width="1082.9" height="787.7" fill="none" stroke="#000" stroke-width="2.9"/>
<g id="ytick-labels">
<text transform="translate(234.18 804.90) scale(1.1413 1)" font-size="48.5">10</text>
<text transform="translate(292.73 793.70) scale(1.5498 1)" font-size="34">−</text>
<text transform="translate(323.08 790.70) scale(1.0980 1)" font-size="34">1</text>
<text transform="translate(267.89 656.32) scale(1.1367 1)" font-size="48.5">10</text>
<text transform="translate(323.57 642.12) scale(1.1563 1)" font-size="34">0</text>
<text transform="translate(267.89 507.74) scale(1.1367 1)" font-size="48.5">10</text>
<text transform="translate(323.97 493.54) scale(1.0275 1)" font-size="34">1</text>
<text transform="translate(267.89 359.16) scale(1.1367 1)" font-size="48.5">10</text>
<text transform="translate(323.53 344.96) scale(1.1991 1)" font-size="34">2</text>
<text transform="translate(267.89 210.58) scale(1.1367 1)" font-size="48.5">10</text>
<text transform="translate(322.89 196.38) scale(1.1991 1)" font-size="34">3</text>
<text transform="translate(267.89 62.00) scale(1.1367 1)" font-size="48.5">10</text>
<text transform="translate(324.23 47.80) scale(1.0792 1)" font-size="34">4</text>
</g>
<g id="xtick-labels">
<text transform="translate(308.25 882.20) scale(1.1228 1)" font-size="48.5">10</text>
<text transform="translate(367.78 870.00) scale(1.3929 1)" font-size="34">−</text>
<text transform="translate(398.44 867.00) scale(1.0876 1)" font-size="34">2</text>
<text transform="translate(619.55 882.20) scale(1.1228 1)" font-size="48.5">10</text>
<text transform="translate(679.08 870.00) scale(1.3929 1)" font-size="34">−</text>
<text transform="translate(710.10 867.00) scale(0.9804 1)" font-size="34">1</text>
<text transform="translate(948.32 882.20) scale(1.1020 1)" font-size="48.5">10</text>
<text transform="translate(1004.79 867.00) scale(1.1429 1)" font-size="34">0</text>
<text transform="translate(1259.62 882.20) scale(1.1020 1)" font-size="48.5">10</text>
<text transform="translate(1316.42 867.00) scale(0.9725 1)" font-size="34">1</text>
</g>
<g id="xlabel">
<text transform="translate(779.90 955.60) scale(1.1889 1)" font-size="50">Voltage</text>
<text transform="translate(963.40 965.80) scale(1.0771 1)" font-size="68" stroke="#fff" stroke-width="0.9">/</text>
<text transform="translate(988.30 955.60) scale(1.0797 1)" font-size="50">V</text>
</g>
<g id="ylabel" transform="translate(183 769) rotate(-90)">
<text transform="translate(-1.88 0.00) scale(1.2006 1)" font-size="50">Current</text>
<text transform="translate(203.45 0.00) scale(1.1864 1)" font-size="50">density</text>
<text transform="translate(380.40 10.30) scale(1.0614 1)" font-size="68" stroke="#fff" stroke-width="0.9">/</text>
<text transform="translate(408.26 -0.50) scale(0.9745 1)" font-size="54" stroke="#fff" stroke-width="0.8">(</text>
<text transform="translate(429.55 0.00) scale(0.9600 1)" font-size="50">m</text>
<text transform="translate(475.60 0.00) scale(0.8737 1)" font-size="50">A</text>
<text transform="translate(509.87 8.60) scale(0.8943 1)" font-size="66">·</text>
<text transform="translate(531.08 0.00) scale(1.2288 1)" font-size="50">c</text>
<text transform="translate(560.01 0.00) scale(0.8880 1)" font-size="50">m</text>
<text transform="translate(601.69 -11.50) scale(1.5122 1)" font-size="34">−</text>
<text transform="translate(631.70 -14.20) scale(1.0318 1)" font-size="34">2</text>
<text transform="translate(652.36 -0.50) scale(0.9691 1)" font-size="54" stroke="#fff" stroke-width="0.8">)</text>
</g>
<g id="legend">
<circle cx="411.7" cy="87.0" r="10.0" fill="url(#gk)"/>
<circle cx="411.7" cy="145.7" r="10.6" fill="url(#gr)"/>
<text transform="translate(441.24 101.10) scale(1.3252 1)" font-size="46.5">FTO</text>
<text transform="translate(561.10 111.30) scale(1.1033 1)" font-size="68" stroke="#fff" stroke-width="0.9">/</text>
<text transform="translate(586.83 101.10) scale(1.3309 1)" font-size="46.5">TiO</text>
<text transform="translate(684.37 107.70) scale(1.2107 1)" font-size="32.5">2</text>
<text transform="translate(705.60 111.30) scale(1.1608 1)" font-size="68" stroke="#fff" stroke-width="0.9">/</text>
<text transform="translate(732.37 101.10) scale(1.2819 1)" font-size="46.5">MAPbI</text>
<text transform="translate(911.18 107.70) scale(1.1305 1)" font-size="32.5">3</text>
<text transform="translate(931.10 111.30) scale(1.1608 1)" font-size="68" stroke="#fff" stroke-width="0.9">/</text>
<text transform="translate(958.25 101.10) scale(1.2061 1)" font-size="46.5">C</text>
<text transform="translate(998.42 107.70) scale(1.1651 1)" font-size="32.5">60</text>
<text transform="translate(1037.80 111.30) scale(1.1608 1)" font-size="68" stroke="#fff" stroke-width="0.9">/</text>
<text transform="translate(1063.82 101.10) scale(1.2242 1)" font-size="46.5">C</text>
<text transform="translate(441.24 159.90) scale(1.3252 1)" font-size="46.5">FTO</text>
<text transform="translate(561.10 170.10) scale(1.1033 1)" font-size="68" stroke="#fff" stroke-width="0.9">/</text>
<text transform="translate(586.83 159.90) scale(1.3309 1)" font-size="46.5">TiO</text>
<text transform="translate(684.37 166.40) scale(1.2107 1)" font-size="32.5">2</text>
<text transform="translate(705.60 170.10) scale(1.1608 1)" font-size="68" stroke="#fff" stroke-width="0.9">/</text>
<text transform="translate(732.35 159.90) scale(1.3052 1)" font-size="46.5">BaTiO</text>
<text transform="translate(896.12 166.40) scale(1.1013 1)" font-size="32.5">3</text>
<text transform="translate(914.71 159.90) scale(1.1527 1)" font-size="46.5">:</text>
<text transform="translate(931.98 159.90) scale(1.2688 1)" font-size="46.5">MAPbI</text>
<text transform="translate(1109.96 166.40) scale(1.2107 1)" font-size="32.5">3</text>
<text transform="translate(1132.20 170.10) scale(1.1294 1)" font-size="68" stroke="#fff" stroke-width="0.9">/</text>
<text transform="translate(1158.25 159.90) scale(1.2061 1)" font-size="46.5">C</text>
<text transform="translate(1197.72 166.40) scale(1.1651 1)" font-size="32.5">60</text>
<text transform="translate(1238.20 170.10) scale(1.1190 1)" font-size="68" stroke="#fff" stroke-width="0.9">/</text>
<text transform="translate(1263.81 159.90) scale(1.2315 1)" font-size="46.5">C</text>
</g>
<g id="nlegend">
<g stroke-width="3" stroke-linecap="round">
<line x1="1179.6" y1="373.3" x2="1258.4" y2="373.3" stroke="#0d7a41"/>
<line x1="1179.6" y1="433.3" x2="1258.4" y2="433.3" stroke="#1470d6"/>
<line x1="1179.6" y1="494.3" x2="1258.4" y2="494.3" stroke="#f28313"/>
</g>
<text transform="translate(1277.70 388.50) scale(1.4000 1)" font-size="48" class="it" stroke="#fff" stroke-width="0.8">n</text>
<text transform="translate(1324.17 395.10) scale(1.3067 1)" font-size="56" stroke="#fff" stroke-width="0.8">=</text>
<text transform="translate(1378.06 388.50) scale(1.0392 1)" font-size="48.5">1</text>
<text transform="translate(1277.70 447.00) scale(1.4000 1)" font-size="48" class="it" stroke="#fff" stroke-width="0.8">n</text>
<text transform="translate(1329.21 449.50) scale(1.1791 1)" font-size="45">&gt;</text>
<text transform="translate(1377.09 447.00) scale(1.1045 1)" font-size="48.5">3</text>
<text transform="translate(1277.70 507.60) scale(1.4000 1)" font-size="48" class="it" stroke="#fff" stroke-width="0.8">n</text>
<text transform="translate(1324.17 514.20) scale(1.3067 1)" font-size="56" stroke="#fff" stroke-width="0.8">=</text>
<text transform="translate(1378.76 507.60) scale(1.0850 1)" font-size="48.5">2</text>
</g>
<g id="vtfl">
<text transform="translate(1059.00 678.30) scale(1.1447 1)" font-size="48.5" class="it r" stroke="#fff" stroke-width="0.5">V</text>
<text transform="translate(1091.33 685.30) scale(1.2648 1)" font-size="34" class="r">TFL</text>
<text transform="translate(1178.27 684.90) scale(1.3067 1)" font-size="56" class="r" stroke="#fff" stroke-width="0.8">=</text>
<text transform="translate(1233.28 678.30) scale(1.1346 1)" font-size="48.5" class="r">0.61</text>
<text transform="translate(1351.10 678.30) scale(1.0930 1)" font-size="48.5" class="r">V</text>
<text transform="translate(1059.00 746.80) scale(1.1447 1)" font-size="48.5" class="it" stroke="#fff" stroke-width="0.5">V</text>
<text transform="translate(1091.33 753.80) scale(1.2648 1)" font-size="34">TFL</text>
<text transform="translate(1178.27 753.40) scale(1.3067 1)" font-size="56" stroke="#fff" stroke-width="0.8">=</text>
<text transform="translate(1233.30 746.80) scale(1.1241 1)" font-size="48.5">0.85</text>
<text transform="translate(1351.10 746.80) scale(1.0930 1)" font-size="48.5">V</text>
</g>
<g id="inset">
<polygon points="413.6,389.5 725.4,433.8 857.2,351.0 545.4,306.7" fill="#c9a0ba"/>
<polygon points="413.6,389.5 725.4,433.8 725.4,477.4 413.6,433.4" fill="#7a6172" stroke="#7a6172" stroke-width="0.6"/>
<polygon points="725.4,433.8 857.2,351.0 857.2,398.8 725.4,477.4" fill="#c9a0ba" stroke="#c9a0ba" stroke-width="0.6"/>
<polygon points="413.6,433.4 725.4,477.4 725.4,544.2 413.6,500.0" fill="#7e3a0b" stroke="#7e3a0b" stroke-width="0.6"/>
<polygon points="725.4,477.4 857.2,398.8 857.2,464.0 725.4,544.2" fill="#c95e13" stroke="#c95e13" stroke-width="0.6"/>
<polygon points="413.6,500.0 725.4,544.2 725.4,590.9 413.6,544.2" fill="#4f6f89" stroke="#4f6f89" stroke-width="0.6"/>
<polygon points="725.4,544.2 857.2,464.0 857.2,509.5 725.4,590.9" fill="#84b1d9" stroke="#84b1d9" stroke-width="0.6"/>
<polygon points="413.6,544.2 725.4,590.9 725.4,648.3 413.6,603.0" fill="#6b6868" stroke="#6b6868" stroke-width="0.6"/>
<polygon points="725.4,590.9 857.2,509.5 857.2,566.8 725.4,648.3" fill="#a9a5a4" stroke="#a9a5a4" stroke-width="0.6"/>
<g fill="none" stroke-width="2.9" stroke-linejoin="round">
<polyline points="413.6,389.5 725.4,433.8 857.2,351.0" stroke="#fbe1da"/>
<polyline points="413.6,433.4 725.4,477.4 857.2,398.8" stroke="#fbe1da"/>
<polyline points="413.6,500.0 725.4,544.2 857.2,464.0" stroke="#e2f1ec"/>
<polyline points="413.6,544.2 725.4,590.9 857.2,509.5" stroke="#e4ecf2"/>
<polyline points="413.6,603.0 725.4,648.3 857.2,566.8" stroke="#eef0f4" stroke-width="1.4"/>
<line x1="725.4" y1="433.8" x2="725.4" y2="544.2" stroke="#fbe1da" stroke-width="2"/>
<line x1="725.4" y1="544.2" x2="725.4" y2="648.3" stroke="#dcebf0" stroke-width="2"/>
<line x1="857.2" y1="351.0" x2="857.2" y2="566.8" stroke="#f1ece9" stroke-width="1.2"/>
</g>
<polygon points="467.6,348.6 567.2,285.3 664,299 563.1,362.1" fill="#363436" stroke="#363436" stroke-width="0.7"/>
<polygon points="467.6,348.6 563.1,362.1 563.1,405 467.4,390.8" fill="#242224" stroke="#242224" stroke-width="0.7"/>
<polygon points="563.1,362.1 664,299 664,344.6 563.1,405" fill="#39373a" stroke="#39373a" stroke-width="0.7"/>
<polygon points="630.3,371 728,308.4 824.3,322.4 725.7,385.3" fill="#363436" stroke="#363436" stroke-width="0.7"/>
<polygon points="630.3,371 725.7,385.3 725.7,426.4 630.3,412.4" fill="#242224" stroke="#242224" stroke-width="0.7"/>
<polygon points="725.7,385.3 824.3,322.4 824.3,365 725.7,426.4" fill="#39373a" stroke="#39373a" stroke-width="0.7"/>
<g stroke="#000" stroke-width="3.4" stroke-linecap="butt">
<line x1="665.3" y1="267" x2="614.8" y2="299"/>
<line x1="711" y1="270" x2="762.7" y2="314.3"/>
</g>
<text transform="translate(671.47 267.00) scale(1.1423 1)" font-size="34.5">C</text>
<g transform="translate(547.0 443.8) rotate(8.09)">
<text transform="translate(-1.31 0.00) scale(1.2156 1)" font-size="34.5" class="w">C</text>
<text transform="translate(25.77 5.50) scale(1.0841 1)" font-size="24.5" class="w">60</text>
</g>
<g transform="translate(427.5 479.0) rotate(8.09)">
<text transform="translate(-0.68 0.00) scale(1.2545 1)" font-size="34.5" class="w">BaTiO</text>
<text transform="translate(113.80 5.50) scale(1.2190 1)" font-size="24.5" class="w">3</text>
<text transform="translate(129.43 0.00) scale(1.0667 1)" font-size="34.5" class="w">:</text>
<text transform="translate(140.84 0.00) scale(1.2154 1)" font-size="34.5" class="w">MAPbI</text>
<text transform="translate(266.83 5.50) scale(1.1029 1)" font-size="24.5" class="w">3</text>
</g>
<g transform="translate(516.5 551.0) rotate(8.09)">
<text transform="translate(-0.65 0.00) scale(1.2142 1)" font-size="34.5" class="w">TiO</text>
<text transform="translate(65.14 5.50) scale(1.1223 1)" font-size="24.5" class="w">2</text>
</g>
<g transform="translate(514.7 603.0) rotate(8.09)">
<text transform="translate(-0.70 0.00) scale(1.2894 1)" font-size="34.5" class="w">FTO</text>
</g>
</g>
</svg>
</body>
</html>
